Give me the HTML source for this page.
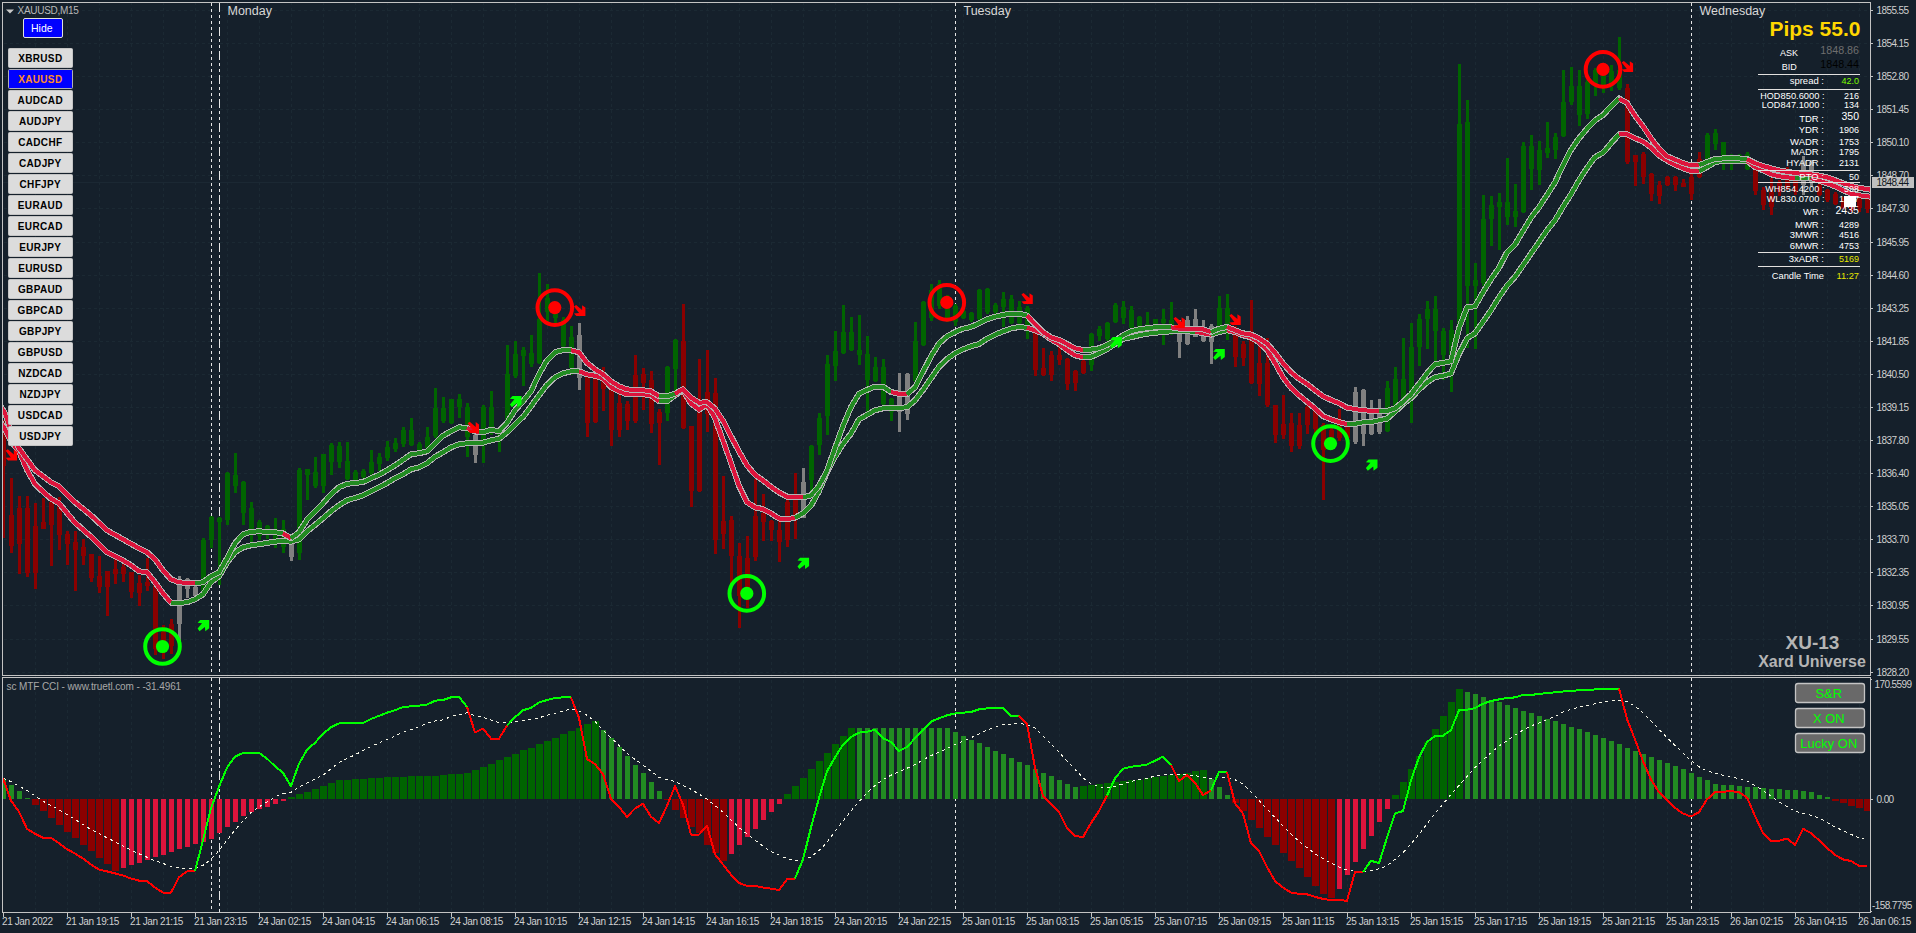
<!DOCTYPE html>
<html><head><meta charset="utf-8"><title>XAUUSD,M15</title>
<style>html,body{margin:0;padding:0;background:#15202b;width:1916px;height:933px}svg{display:block}text{font-family:"Liberation Sans", sans-serif;white-space:pre}</style>
</head><body>
<svg width="1916" height="933" viewBox="0 0 1916 933">
<rect x="0" y="0" width="1916" height="933" fill="#15202b"/>
<defs><clipPath id="cm"><rect x="3" y="3" width="1867" height="672"/></clipPath><clipPath id="ci"><rect x="3" y="678" width="1867" height="234"/></clipPath></defs>
<g shape-rendering="crispEdges" stroke="#1b2933" stroke-width="1" stroke-dasharray="3 3" fill="none">
<path d="M35.5 2V675M35.5 674V912"/>
<path d="M67.5 2V675M67.5 674V912"/>
<path d="M99.5 2V675M99.5 674V912"/>
<path d="M131.5 2V675M131.5 674V912"/>
<path d="M163.5 2V675M163.5 674V912"/>
<path d="M195.5 2V675M195.5 674V912"/>
<path d="M227.5 2V675M227.5 674V912"/>
<path d="M259.5 2V675M259.5 674V912"/>
<path d="M291.5 2V675M291.5 674V912"/>
<path d="M323.5 2V675M323.5 674V912"/>
<path d="M355.5 2V675M355.5 674V912"/>
<path d="M387.5 2V675M387.5 674V912"/>
<path d="M419.5 2V675M419.5 674V912"/>
<path d="M451.5 2V675M451.5 674V912"/>
<path d="M483.5 2V675M483.5 674V912"/>
<path d="M515.5 2V675M515.5 674V912"/>
<path d="M547.5 2V675M547.5 674V912"/>
<path d="M579.5 2V675M579.5 674V912"/>
<path d="M611.5 2V675M611.5 674V912"/>
<path d="M643.5 2V675M643.5 674V912"/>
<path d="M675.5 2V675M675.5 674V912"/>
<path d="M707.5 2V675M707.5 674V912"/>
<path d="M739.5 2V675M739.5 674V912"/>
<path d="M771.5 2V675M771.5 674V912"/>
<path d="M803.5 2V675M803.5 674V912"/>
<path d="M835.5 2V675M835.5 674V912"/>
<path d="M867.5 2V675M867.5 674V912"/>
<path d="M899.5 2V675M899.5 674V912"/>
<path d="M931.5 2V675M931.5 674V912"/>
<path d="M963.5 2V675M963.5 674V912"/>
<path d="M995.5 2V675M995.5 674V912"/>
<path d="M1027.5 2V675M1027.5 674V912"/>
<path d="M1059.5 2V675M1059.5 674V912"/>
<path d="M1091.5 2V675M1091.5 674V912"/>
<path d="M1123.5 2V675M1123.5 674V912"/>
<path d="M1155.5 2V675M1155.5 674V912"/>
<path d="M1187.5 2V675M1187.5 674V912"/>
<path d="M1219.5 2V675M1219.5 674V912"/>
<path d="M1251.5 2V675M1251.5 674V912"/>
<path d="M1283.5 2V675M1283.5 674V912"/>
<path d="M1315.5 2V675M1315.5 674V912"/>
<path d="M1347.5 2V675M1347.5 674V912"/>
<path d="M1379.5 2V675M1379.5 674V912"/>
<path d="M1411.5 2V675M1411.5 674V912"/>
<path d="M1443.5 2V675M1443.5 674V912"/>
<path d="M1475.5 2V675M1475.5 674V912"/>
<path d="M1507.5 2V675M1507.5 674V912"/>
<path d="M1539.5 2V675M1539.5 674V912"/>
<path d="M1571.5 2V675M1571.5 674V912"/>
<path d="M1603.5 2V675M1603.5 674V912"/>
<path d="M1635.5 2V675M1635.5 674V912"/>
<path d="M1667.5 2V675M1667.5 674V912"/>
<path d="M1699.5 2V675M1699.5 674V912"/>
<path d="M1731.5 2V675M1731.5 674V912"/>
<path d="M1763.5 2V675M1763.5 674V912"/>
<path d="M1795.5 2V675M1795.5 674V912"/>
<path d="M1827.5 2V675M1827.5 674V912"/>
<path d="M1859.5 2V675M1859.5 674V912"/>
<path d="M4 10.5H1870"/>
<path d="M4 43.5H1870"/>
<path d="M4 76.5H1870"/>
<path d="M4 109.5H1870"/>
<path d="M4 142.5H1870"/>
<path d="M4 175.5H1870"/>
<path d="M4 208.5H1870"/>
<path d="M4 242.5H1870"/>
<path d="M4 275.5H1870"/>
<path d="M4 308.5H1870"/>
<path d="M4 341.5H1870"/>
<path d="M4 374.5H1870"/>
<path d="M4 407.5H1870"/>
<path d="M4 440.5H1870"/>
<path d="M4 473.5H1870"/>
<path d="M4 506.5H1870"/>
<path d="M4 539.5H1870"/>
<path d="M4 572.5H1870"/>
<path d="M4 605.5H1870"/>
<path d="M4 639.5H1870"/>
<path d="M4 672.5H1870"/>
</g>
<path d="M3 182.5H1870" stroke="#1b2833" stroke-width="1" shape-rendering="crispEdges"/>
<g shape-rendering="crispEdges" stroke="#e6e6e6" stroke-width="1" fill="none">
<path d="M211.5 3V675M211.5 678V912" stroke-dasharray="3 3"/>
<path d="M955.5 3V675M955.5 678V912" stroke-dasharray="3 3"/>
<path d="M1691.5 3V675M1691.5 678V912" stroke-dasharray="3 3"/>
<path d="M219.5 3V675" stroke-dasharray="9 3 3 3 3 3"/>
<path d="M219.5 678V912" stroke-dasharray="9 3 3 3 3 3" stroke-dashoffset="3"/>
</g>
<g clip-path="url(#cm)" shape-rendering="crispEdges">
<rect x="2" y="420" width="3" height="118" fill="#8b0000"/>
<rect x="1" y="433" width="5" height="33" fill="#8b0000"/>
<rect x="10" y="478" width="3" height="75" fill="#8b0000"/>
<rect x="9" y="515" width="5" height="31" fill="#8b0000"/>
<rect x="18" y="496" width="3" height="78" fill="#8b0000"/>
<rect x="17" y="508" width="5" height="36" fill="#8b0000"/>
<rect x="26" y="496" width="3" height="81" fill="#8b0000"/>
<rect x="25" y="508" width="5" height="65" fill="#8b0000"/>
<rect x="34" y="503" width="3" height="86" fill="#8b0000"/>
<rect x="33" y="526" width="5" height="47" fill="#8b0000"/>
<rect x="42" y="498" width="3" height="31" fill="#8b0000"/>
<rect x="41" y="522" width="5" height="7" fill="#8b0000"/>
<rect x="50" y="502" width="3" height="64" fill="#8b0000"/>
<rect x="49" y="502" width="5" height="23" fill="#8b0000"/>
<rect x="58" y="497" width="3" height="53" fill="#8b0000"/>
<rect x="57" y="505" width="5" height="30" fill="#8b0000"/>
<rect x="66" y="531" width="3" height="34" fill="#8b0000"/>
<rect x="65" y="534" width="5" height="10" fill="#8b0000"/>
<rect x="74" y="531" width="3" height="60" fill="#8b0000"/>
<rect x="73" y="542" width="5" height="8" fill="#8b0000"/>
<rect x="82" y="539" width="3" height="26" fill="#8b0000"/>
<rect x="81" y="547" width="5" height="9" fill="#8b0000"/>
<rect x="90" y="554" width="3" height="28" fill="#8b0000"/>
<rect x="89" y="554" width="5" height="24" fill="#8b0000"/>
<rect x="98" y="556" width="3" height="37" fill="#8b0000"/>
<rect x="97" y="576" width="5" height="11" fill="#8b0000"/>
<rect x="106" y="571" width="3" height="45" fill="#8b0000"/>
<rect x="105" y="571" width="5" height="16" fill="#8b0000"/>
<rect x="114" y="559" width="3" height="25" fill="#8b0000"/>
<rect x="113" y="569" width="5" height="5" fill="#8b0000"/>
<rect x="122" y="562" width="3" height="20" fill="#8b0000"/>
<rect x="121" y="567" width="5" height="7" fill="#8b0000"/>
<rect x="130" y="572" width="3" height="26" fill="#8b0000"/>
<rect x="129" y="572" width="5" height="20" fill="#8b0000"/>
<rect x="138" y="575" width="3" height="31" fill="#8b0000"/>
<rect x="137" y="583" width="5" height="10" fill="#8b0000"/>
<rect x="146" y="558" width="3" height="33" fill="#8b0000"/>
<rect x="145" y="582" width="5" height="4" fill="#8b0000"/>
<rect x="154" y="583" width="3" height="72" fill="#8b0000"/>
<rect x="153" y="584" width="5" height="65" fill="#8b0000"/>
<rect x="162" y="625" width="3" height="34" fill="#8b0000"/>
<rect x="161" y="632" width="5" height="20" fill="#8b0000"/>
<rect x="170" y="619" width="3" height="35" fill="#8b0000"/>
<rect x="169" y="624" width="5" height="22" fill="#8b0000"/>
<rect x="178" y="576" width="3" height="67" fill="#808080"/>
<rect x="177" y="579" width="5" height="45" fill="#808080"/>
<rect x="186" y="578" width="3" height="20" fill="#808080"/>
<rect x="185" y="579" width="5" height="10" fill="#808080"/>
<rect x="194" y="584" width="3" height="13" fill="#808080"/>
<rect x="193" y="587" width="5" height="9" fill="#808080"/>
<rect x="202" y="538" width="3" height="59" fill="#006400"/>
<rect x="201" y="540" width="5" height="54" fill="#006400"/>
<rect x="210" y="516" width="3" height="32" fill="#006400"/>
<rect x="209" y="517" width="5" height="23" fill="#006400"/>
<rect x="218" y="517" width="3" height="68" fill="#006400"/>
<rect x="217" y="518" width="5" height="4" fill="#006400"/>
<rect x="226" y="472" width="3" height="53" fill="#006400"/>
<rect x="225" y="473" width="5" height="47" fill="#006400"/>
<rect x="234" y="453" width="3" height="40" fill="#006400"/>
<rect x="233" y="475" width="5" height="11" fill="#006400"/>
<rect x="242" y="481" width="3" height="44" fill="#006400"/>
<rect x="241" y="482" width="5" height="31" fill="#006400"/>
<rect x="250" y="502" width="3" height="40" fill="#006400"/>
<rect x="249" y="508" width="5" height="21" fill="#006400"/>
<rect x="258" y="520" width="3" height="20" fill="#006400"/>
<rect x="257" y="522" width="5" height="14" fill="#006400"/>
<rect x="266" y="525" width="3" height="14" fill="#006400"/>
<rect x="265" y="526" width="5" height="9" fill="#006400"/>
<rect x="274" y="518" width="3" height="30" fill="#006400"/>
<rect x="273" y="529" width="5" height="14" fill="#006400"/>
<rect x="282" y="520" width="3" height="33" fill="#006400"/>
<rect x="281" y="529" width="5" height="18" fill="#006400"/>
<rect x="290" y="539" width="3" height="22" fill="#808080"/>
<rect x="289" y="543" width="5" height="14" fill="#808080"/>
<rect x="298" y="468" width="3" height="92" fill="#006400"/>
<rect x="297" y="470" width="5" height="83" fill="#006400"/>
<rect x="306" y="469" width="3" height="31" fill="#006400"/>
<rect x="305" y="469" width="5" height="6" fill="#006400"/>
<rect x="314" y="457" width="3" height="31" fill="#006400"/>
<rect x="313" y="472" width="5" height="14" fill="#006400"/>
<rect x="322" y="454" width="3" height="39" fill="#006400"/>
<rect x="321" y="454" width="5" height="32" fill="#006400"/>
<rect x="330" y="443" width="3" height="32" fill="#006400"/>
<rect x="329" y="445" width="5" height="17" fill="#006400"/>
<rect x="338" y="442" width="3" height="26" fill="#006400"/>
<rect x="337" y="446" width="5" height="16" fill="#006400"/>
<rect x="346" y="442" width="3" height="38" fill="#006400"/>
<rect x="345" y="461" width="5" height="18" fill="#006400"/>
<rect x="354" y="470" width="3" height="15" fill="#006400"/>
<rect x="353" y="472" width="5" height="12" fill="#006400"/>
<rect x="362" y="469" width="3" height="15" fill="#006400"/>
<rect x="361" y="471" width="5" height="6" fill="#006400"/>
<rect x="370" y="450" width="3" height="26" fill="#006400"/>
<rect x="369" y="462" width="5" height="11" fill="#006400"/>
<rect x="378" y="453" width="3" height="18" fill="#006400"/>
<rect x="377" y="457" width="5" height="7" fill="#006400"/>
<rect x="386" y="441" width="3" height="20" fill="#006400"/>
<rect x="385" y="447" width="5" height="11" fill="#006400"/>
<rect x="394" y="438" width="3" height="14" fill="#006400"/>
<rect x="393" y="443" width="5" height="6" fill="#006400"/>
<rect x="402" y="427" width="3" height="20" fill="#006400"/>
<rect x="401" y="430" width="5" height="14" fill="#006400"/>
<rect x="410" y="418" width="3" height="28" fill="#006400"/>
<rect x="409" y="430" width="5" height="15" fill="#006400"/>
<rect x="418" y="442" width="3" height="11" fill="#006400"/>
<rect x="417" y="444" width="5" height="6" fill="#006400"/>
<rect x="426" y="427" width="3" height="26" fill="#006400"/>
<rect x="425" y="437" width="5" height="11" fill="#006400"/>
<rect x="434" y="388" width="3" height="50" fill="#006400"/>
<rect x="433" y="408" width="5" height="28" fill="#006400"/>
<rect x="442" y="397" width="3" height="26" fill="#006400"/>
<rect x="441" y="408" width="5" height="13" fill="#006400"/>
<rect x="450" y="399" width="3" height="25" fill="#006400"/>
<rect x="449" y="399" width="5" height="24" fill="#006400"/>
<rect x="458" y="394" width="3" height="24" fill="#006400"/>
<rect x="457" y="399" width="5" height="8" fill="#006400"/>
<rect x="466" y="403" width="3" height="54" fill="#006400"/>
<rect x="465" y="407" width="5" height="30" fill="#006400"/>
<rect x="474" y="431" width="3" height="32" fill="#808080"/>
<rect x="473" y="435" width="5" height="20" fill="#808080"/>
<rect x="482" y="405" width="3" height="58" fill="#006400"/>
<rect x="481" y="407" width="5" height="33" fill="#006400"/>
<rect x="490" y="391" width="3" height="44" fill="#006400"/>
<rect x="489" y="407" width="5" height="23" fill="#006400"/>
<rect x="498" y="427" width="3" height="25" fill="#006400"/>
<rect x="497" y="430" width="5" height="10" fill="#006400"/>
<rect x="506" y="345" width="3" height="80" fill="#006400"/>
<rect x="505" y="374" width="5" height="46" fill="#006400"/>
<rect x="514" y="341" width="3" height="37" fill="#006400"/>
<rect x="513" y="354" width="5" height="22" fill="#006400"/>
<rect x="522" y="347" width="3" height="39" fill="#006400"/>
<rect x="521" y="350" width="5" height="6" fill="#006400"/>
<rect x="530" y="335" width="3" height="32" fill="#006400"/>
<rect x="529" y="353" width="5" height="11" fill="#006400"/>
<rect x="538" y="273" width="3" height="91" fill="#006400"/>
<rect x="537" y="319" width="5" height="44" fill="#006400"/>
<rect x="546" y="284" width="3" height="38" fill="#006400"/>
<rect x="545" y="298" width="5" height="14" fill="#006400"/>
<rect x="554" y="302" width="3" height="21" fill="#006400"/>
<rect x="553" y="304" width="5" height="14" fill="#006400"/>
<rect x="562" y="317" width="3" height="31" fill="#006400"/>
<rect x="561" y="320" width="5" height="26" fill="#006400"/>
<rect x="570" y="326" width="3" height="49" fill="#006400"/>
<rect x="569" y="337" width="5" height="31" fill="#006400"/>
<rect x="578" y="323" width="3" height="67" fill="#808080"/>
<rect x="577" y="335" width="5" height="43" fill="#808080"/>
<rect x="586" y="377" width="3" height="60" fill="#8b0000"/>
<rect x="585" y="377" width="5" height="46" fill="#8b0000"/>
<rect x="594" y="377" width="3" height="46" fill="#8b0000"/>
<rect x="593" y="378" width="5" height="44" fill="#8b0000"/>
<rect x="602" y="367" width="3" height="44" fill="#8b0000"/>
<rect x="601" y="378" width="5" height="11" fill="#8b0000"/>
<rect x="610" y="389" width="3" height="57" fill="#8b0000"/>
<rect x="609" y="389" width="5" height="41" fill="#8b0000"/>
<rect x="618" y="392" width="3" height="45" fill="#8b0000"/>
<rect x="617" y="403" width="5" height="27" fill="#8b0000"/>
<rect x="626" y="401" width="3" height="29" fill="#8b0000"/>
<rect x="625" y="404" width="5" height="17" fill="#8b0000"/>
<rect x="634" y="355" width="3" height="68" fill="#8b0000"/>
<rect x="633" y="375" width="5" height="46" fill="#8b0000"/>
<rect x="642" y="368" width="3" height="42" fill="#8b0000"/>
<rect x="641" y="374" width="5" height="9" fill="#8b0000"/>
<rect x="650" y="371" width="3" height="62" fill="#8b0000"/>
<rect x="649" y="380" width="5" height="44" fill="#8b0000"/>
<rect x="658" y="409" width="3" height="56" fill="#8b0000"/>
<rect x="657" y="412" width="5" height="11" fill="#8b0000"/>
<rect x="666" y="366" width="3" height="55" fill="#006400"/>
<rect x="665" y="367" width="5" height="46" fill="#006400"/>
<rect x="674" y="339" width="3" height="53" fill="#006400"/>
<rect x="673" y="340" width="5" height="29" fill="#006400"/>
<rect x="682" y="304" width="3" height="125" fill="#8b0000"/>
<rect x="681" y="341" width="5" height="87" fill="#8b0000"/>
<rect x="690" y="426" width="3" height="81" fill="#8b0000"/>
<rect x="689" y="426" width="5" height="65" fill="#8b0000"/>
<rect x="698" y="359" width="3" height="133" fill="#8b0000"/>
<rect x="697" y="412" width="5" height="79" fill="#8b0000"/>
<rect x="706" y="350" width="3" height="82" fill="#8b0000"/>
<rect x="705" y="392" width="5" height="22" fill="#8b0000"/>
<rect x="714" y="378" width="3" height="176" fill="#8b0000"/>
<rect x="713" y="393" width="5" height="147" fill="#8b0000"/>
<rect x="722" y="476" width="3" height="73" fill="#8b0000"/>
<rect x="721" y="521" width="5" height="13" fill="#8b0000"/>
<rect x="730" y="516" width="3" height="69" fill="#8b0000"/>
<rect x="729" y="520" width="5" height="36" fill="#8b0000"/>
<rect x="738" y="543" width="3" height="85" fill="#8b0000"/>
<rect x="737" y="556" width="5" height="40" fill="#8b0000"/>
<rect x="746" y="536" width="3" height="72" fill="#8b0000"/>
<rect x="745" y="558" width="5" height="38" fill="#8b0000"/>
<rect x="754" y="479" width="3" height="82" fill="#8b0000"/>
<rect x="753" y="516" width="5" height="41" fill="#8b0000"/>
<rect x="762" y="494" width="3" height="47" fill="#8b0000"/>
<rect x="761" y="513" width="5" height="9" fill="#8b0000"/>
<rect x="770" y="520" width="3" height="21" fill="#8b0000"/>
<rect x="769" y="521" width="5" height="9" fill="#8b0000"/>
<rect x="778" y="521" width="3" height="41" fill="#8b0000"/>
<rect x="777" y="530" width="5" height="12" fill="#8b0000"/>
<rect x="786" y="500" width="3" height="47" fill="#8b0000"/>
<rect x="785" y="502" width="5" height="38" fill="#8b0000"/>
<rect x="794" y="473" width="3" height="66" fill="#8b0000"/>
<rect x="793" y="500" width="5" height="18" fill="#8b0000"/>
<rect x="802" y="468" width="3" height="50" fill="#808080"/>
<rect x="801" y="482" width="5" height="36" fill="#808080"/>
<rect x="810" y="445" width="3" height="46" fill="#006400"/>
<rect x="809" y="446" width="5" height="34" fill="#006400"/>
<rect x="818" y="413" width="3" height="42" fill="#006400"/>
<rect x="817" y="418" width="5" height="27" fill="#006400"/>
<rect x="826" y="355" width="3" height="80" fill="#006400"/>
<rect x="825" y="364" width="5" height="52" fill="#006400"/>
<rect x="834" y="331" width="3" height="50" fill="#006400"/>
<rect x="833" y="351" width="5" height="15" fill="#006400"/>
<rect x="842" y="305" width="3" height="49" fill="#006400"/>
<rect x="841" y="332" width="5" height="21" fill="#006400"/>
<rect x="850" y="317" width="3" height="34" fill="#006400"/>
<rect x="849" y="332" width="5" height="18" fill="#006400"/>
<rect x="858" y="315" width="3" height="50" fill="#006400"/>
<rect x="857" y="350" width="5" height="5" fill="#006400"/>
<rect x="866" y="336" width="3" height="76" fill="#006400"/>
<rect x="865" y="354" width="5" height="26" fill="#006400"/>
<rect x="874" y="357" width="3" height="25" fill="#006400"/>
<rect x="873" y="367" width="5" height="14" fill="#006400"/>
<rect x="882" y="359" width="3" height="48" fill="#006400"/>
<rect x="881" y="367" width="5" height="37" fill="#006400"/>
<rect x="890" y="398" width="3" height="23" fill="#006400"/>
<rect x="889" y="399" width="5" height="13" fill="#006400"/>
<rect x="898" y="373" width="3" height="59" fill="#808080"/>
<rect x="897" y="396" width="5" height="16" fill="#808080"/>
<rect x="906" y="373" width="3" height="47" fill="#808080"/>
<rect x="905" y="374" width="5" height="40" fill="#808080"/>
<rect x="914" y="322" width="3" height="60" fill="#006400"/>
<rect x="913" y="341" width="5" height="40" fill="#006400"/>
<rect x="922" y="301" width="3" height="45" fill="#006400"/>
<rect x="921" y="302" width="5" height="43" fill="#006400"/>
<rect x="930" y="284" width="3" height="37" fill="#006400"/>
<rect x="929" y="290" width="5" height="28" fill="#006400"/>
<rect x="938" y="280" width="3" height="29" fill="#006400"/>
<rect x="937" y="284" width="5" height="22" fill="#006400"/>
<rect x="946" y="295" width="3" height="27" fill="#006400"/>
<rect x="945" y="297" width="5" height="23" fill="#006400"/>
<rect x="954" y="304" width="3" height="22" fill="#006400"/>
<rect x="953" y="306" width="5" height="16" fill="#006400"/>
<rect x="962" y="310" width="3" height="9" fill="#006400"/>
<rect x="961" y="311" width="5" height="7" fill="#006400"/>
<rect x="970" y="312" width="3" height="10" fill="#006400"/>
<rect x="969" y="313" width="5" height="7" fill="#006400"/>
<rect x="978" y="289" width="3" height="31" fill="#006400"/>
<rect x="977" y="290" width="5" height="29" fill="#006400"/>
<rect x="986" y="288" width="3" height="26" fill="#006400"/>
<rect x="985" y="289" width="5" height="23" fill="#006400"/>
<rect x="994" y="303" width="3" height="11" fill="#006400"/>
<rect x="993" y="305" width="5" height="7" fill="#006400"/>
<rect x="1002" y="292" width="3" height="35" fill="#006400"/>
<rect x="1001" y="299" width="5" height="8" fill="#006400"/>
<rect x="1010" y="295" width="3" height="29" fill="#006400"/>
<rect x="1009" y="299" width="5" height="24" fill="#006400"/>
<rect x="1018" y="301" width="3" height="23" fill="#006400"/>
<rect x="1017" y="307" width="5" height="16" fill="#006400"/>
<rect x="1026" y="306" width="3" height="33" fill="#006400"/>
<rect x="1025" y="308" width="5" height="22" fill="#006400"/>
<rect x="1034" y="330" width="3" height="46" fill="#8b0000"/>
<rect x="1033" y="332" width="5" height="38" fill="#8b0000"/>
<rect x="1042" y="348" width="3" height="28" fill="#8b0000"/>
<rect x="1041" y="368" width="5" height="7" fill="#8b0000"/>
<rect x="1050" y="351" width="3" height="30" fill="#8b0000"/>
<rect x="1049" y="355" width="5" height="20" fill="#8b0000"/>
<rect x="1058" y="347" width="3" height="18" fill="#8b0000"/>
<rect x="1057" y="355" width="5" height="5" fill="#8b0000"/>
<rect x="1066" y="358" width="3" height="32" fill="#8b0000"/>
<rect x="1065" y="359" width="5" height="25" fill="#8b0000"/>
<rect x="1074" y="370" width="3" height="21" fill="#8b0000"/>
<rect x="1073" y="371" width="5" height="12" fill="#8b0000"/>
<rect x="1082" y="359" width="3" height="15" fill="#8b0000"/>
<rect x="1081" y="361" width="5" height="12" fill="#8b0000"/>
<rect x="1090" y="333" width="3" height="38" fill="#006400"/>
<rect x="1089" y="334" width="5" height="31" fill="#006400"/>
<rect x="1098" y="326" width="3" height="15" fill="#006400"/>
<rect x="1097" y="329" width="5" height="7" fill="#006400"/>
<rect x="1106" y="322" width="3" height="19" fill="#006400"/>
<rect x="1105" y="323" width="5" height="16" fill="#006400"/>
<rect x="1114" y="303" width="3" height="20" fill="#006400"/>
<rect x="1113" y="305" width="5" height="17" fill="#006400"/>
<rect x="1122" y="301" width="3" height="23" fill="#006400"/>
<rect x="1121" y="307" width="5" height="11" fill="#006400"/>
<rect x="1130" y="306" width="3" height="24" fill="#006400"/>
<rect x="1129" y="310" width="5" height="18" fill="#006400"/>
<rect x="1138" y="316" width="3" height="12" fill="#006400"/>
<rect x="1137" y="317" width="5" height="10" fill="#006400"/>
<rect x="1146" y="312" width="3" height="16" fill="#006400"/>
<rect x="1145" y="324" width="5" height="3" fill="#006400"/>
<rect x="1154" y="319" width="3" height="7" fill="#006400"/>
<rect x="1153" y="319" width="5" height="7" fill="#006400"/>
<rect x="1162" y="309" width="3" height="36" fill="#006400"/>
<rect x="1161" y="319" width="5" height="4" fill="#006400"/>
<rect x="1170" y="302" width="3" height="33" fill="#006400"/>
<rect x="1169" y="320" width="5" height="6" fill="#006400"/>
<rect x="1178" y="320" width="3" height="38" fill="#808080"/>
<rect x="1177" y="333" width="5" height="9" fill="#808080"/>
<rect x="1186" y="316" width="3" height="29" fill="#808080"/>
<rect x="1185" y="320" width="5" height="24" fill="#808080"/>
<rect x="1194" y="309" width="3" height="28" fill="#808080"/>
<rect x="1193" y="319" width="5" height="18" fill="#808080"/>
<rect x="1202" y="320" width="3" height="22" fill="#808080"/>
<rect x="1201" y="333" width="5" height="8" fill="#808080"/>
<rect x="1210" y="324" width="3" height="40" fill="#808080"/>
<rect x="1209" y="326" width="5" height="16" fill="#808080"/>
<rect x="1218" y="296" width="3" height="31" fill="#006400"/>
<rect x="1217" y="308" width="5" height="18" fill="#006400"/>
<rect x="1226" y="294" width="3" height="46" fill="#006400"/>
<rect x="1225" y="308" width="5" height="24" fill="#006400"/>
<rect x="1234" y="326" width="3" height="41" fill="#8b0000"/>
<rect x="1233" y="335" width="5" height="22" fill="#8b0000"/>
<rect x="1242" y="341" width="3" height="25" fill="#8b0000"/>
<rect x="1241" y="344" width="5" height="14" fill="#8b0000"/>
<rect x="1250" y="300" width="3" height="84" fill="#8b0000"/>
<rect x="1249" y="338" width="5" height="45" fill="#8b0000"/>
<rect x="1258" y="342" width="3" height="54" fill="#8b0000"/>
<rect x="1257" y="363" width="5" height="21" fill="#8b0000"/>
<rect x="1266" y="338" width="3" height="69" fill="#8b0000"/>
<rect x="1265" y="363" width="5" height="42" fill="#8b0000"/>
<rect x="1274" y="405" width="3" height="38" fill="#8b0000"/>
<rect x="1273" y="405" width="5" height="30" fill="#8b0000"/>
<rect x="1282" y="395" width="3" height="44" fill="#8b0000"/>
<rect x="1281" y="424" width="5" height="11" fill="#8b0000"/>
<rect x="1290" y="413" width="3" height="39" fill="#8b0000"/>
<rect x="1289" y="423" width="5" height="23" fill="#8b0000"/>
<rect x="1298" y="413" width="3" height="36" fill="#8b0000"/>
<rect x="1297" y="425" width="5" height="21" fill="#8b0000"/>
<rect x="1306" y="405" width="3" height="29" fill="#8b0000"/>
<rect x="1305" y="407" width="5" height="18" fill="#8b0000"/>
<rect x="1314" y="409" width="3" height="25" fill="#8b0000"/>
<rect x="1313" y="410" width="5" height="19" fill="#8b0000"/>
<rect x="1322" y="423" width="3" height="77" fill="#8b0000"/>
<rect x="1321" y="425" width="5" height="25" fill="#8b0000"/>
<rect x="1330" y="425" width="3" height="25" fill="#8b0000"/>
<rect x="1329" y="430" width="5" height="15" fill="#8b0000"/>
<rect x="1338" y="409" width="3" height="32" fill="#8b0000"/>
<rect x="1337" y="419" width="5" height="19" fill="#8b0000"/>
<rect x="1346" y="421" width="3" height="21" fill="#8b0000"/>
<rect x="1345" y="424" width="5" height="14" fill="#8b0000"/>
<rect x="1354" y="387" width="3" height="57" fill="#808080"/>
<rect x="1353" y="392" width="5" height="50" fill="#808080"/>
<rect x="1362" y="389" width="3" height="57" fill="#808080"/>
<rect x="1361" y="390" width="5" height="44" fill="#808080"/>
<rect x="1370" y="400" width="3" height="35" fill="#808080"/>
<rect x="1369" y="411" width="5" height="23" fill="#808080"/>
<rect x="1378" y="399" width="3" height="35" fill="#808080"/>
<rect x="1377" y="411" width="5" height="21" fill="#808080"/>
<rect x="1386" y="381" width="3" height="51" fill="#006400"/>
<rect x="1385" y="388" width="5" height="43" fill="#006400"/>
<rect x="1394" y="367" width="3" height="46" fill="#006400"/>
<rect x="1393" y="379" width="5" height="33" fill="#006400"/>
<rect x="1402" y="338" width="3" height="65" fill="#006400"/>
<rect x="1401" y="379" width="5" height="23" fill="#006400"/>
<rect x="1410" y="323" width="3" height="100" fill="#006400"/>
<rect x="1409" y="347" width="5" height="49" fill="#006400"/>
<rect x="1418" y="314" width="3" height="52" fill="#006400"/>
<rect x="1417" y="319" width="5" height="28" fill="#006400"/>
<rect x="1426" y="301" width="3" height="48" fill="#006400"/>
<rect x="1425" y="309" width="5" height="10" fill="#006400"/>
<rect x="1434" y="296" width="3" height="70" fill="#006400"/>
<rect x="1433" y="309" width="5" height="22" fill="#006400"/>
<rect x="1442" y="328" width="3" height="52" fill="#006400"/>
<rect x="1441" y="331" width="5" height="24" fill="#006400"/>
<rect x="1450" y="320" width="3" height="72" fill="#006400"/>
<rect x="1449" y="330" width="5" height="33" fill="#006400"/>
<rect x="1458" y="64" width="3" height="271" fill="#006400"/>
<rect x="1457" y="124" width="5" height="200" fill="#006400"/>
<rect x="1466" y="100" width="3" height="248" fill="#006400"/>
<rect x="1465" y="122" width="5" height="164" fill="#006400"/>
<rect x="1474" y="263" width="3" height="86" fill="#006400"/>
<rect x="1473" y="280" width="5" height="6" fill="#006400"/>
<rect x="1482" y="195" width="3" height="91" fill="#006400"/>
<rect x="1481" y="219" width="5" height="64" fill="#006400"/>
<rect x="1490" y="196" width="3" height="50" fill="#006400"/>
<rect x="1489" y="205" width="5" height="14" fill="#006400"/>
<rect x="1498" y="193" width="3" height="57" fill="#006400"/>
<rect x="1497" y="202" width="5" height="5" fill="#006400"/>
<rect x="1506" y="158" width="3" height="67" fill="#006400"/>
<rect x="1505" y="202" width="5" height="15" fill="#006400"/>
<rect x="1514" y="184" width="3" height="43" fill="#006400"/>
<rect x="1513" y="211" width="5" height="6" fill="#006400"/>
<rect x="1522" y="142" width="3" height="71" fill="#006400"/>
<rect x="1521" y="146" width="5" height="66" fill="#006400"/>
<rect x="1530" y="135" width="3" height="55" fill="#006400"/>
<rect x="1529" y="146" width="5" height="23" fill="#006400"/>
<rect x="1538" y="141" width="3" height="44" fill="#006400"/>
<rect x="1537" y="150" width="5" height="20" fill="#006400"/>
<rect x="1546" y="122" width="3" height="36" fill="#006400"/>
<rect x="1545" y="148" width="5" height="5" fill="#006400"/>
<rect x="1554" y="133" width="3" height="26" fill="#006400"/>
<rect x="1553" y="137" width="5" height="13" fill="#006400"/>
<rect x="1562" y="70" width="3" height="67" fill="#006400"/>
<rect x="1561" y="102" width="5" height="34" fill="#006400"/>
<rect x="1570" y="67" width="3" height="38" fill="#006400"/>
<rect x="1569" y="86" width="5" height="16" fill="#006400"/>
<rect x="1578" y="70" width="3" height="56" fill="#006400"/>
<rect x="1577" y="86" width="5" height="29" fill="#006400"/>
<rect x="1586" y="80" width="3" height="39" fill="#006400"/>
<rect x="1585" y="82" width="5" height="32" fill="#006400"/>
<rect x="1594" y="68" width="3" height="28" fill="#006400"/>
<rect x="1593" y="70" width="5" height="14" fill="#006400"/>
<rect x="1602" y="68" width="3" height="25" fill="#006400"/>
<rect x="1601" y="70" width="5" height="15" fill="#006400"/>
<rect x="1610" y="65" width="3" height="26" fill="#006400"/>
<rect x="1609" y="71" width="5" height="15" fill="#006400"/>
<rect x="1618" y="37" width="3" height="53" fill="#006400"/>
<rect x="1617" y="70" width="5" height="18" fill="#006400"/>
<rect x="1626" y="84" width="3" height="80" fill="#8b0000"/>
<rect x="1625" y="88" width="5" height="74" fill="#8b0000"/>
<rect x="1634" y="155" width="3" height="31" fill="#8b0000"/>
<rect x="1633" y="155" width="5" height="7" fill="#8b0000"/>
<rect x="1642" y="152" width="3" height="32" fill="#8b0000"/>
<rect x="1641" y="154" width="5" height="23" fill="#8b0000"/>
<rect x="1650" y="173" width="3" height="28" fill="#8b0000"/>
<rect x="1649" y="174" width="5" height="20" fill="#8b0000"/>
<rect x="1658" y="181" width="3" height="23" fill="#8b0000"/>
<rect x="1657" y="185" width="5" height="11" fill="#8b0000"/>
<rect x="1666" y="176" width="3" height="10" fill="#8b0000"/>
<rect x="1665" y="177" width="5" height="8" fill="#8b0000"/>
<rect x="1674" y="176" width="3" height="15" fill="#8b0000"/>
<rect x="1673" y="177" width="5" height="8" fill="#8b0000"/>
<rect x="1682" y="179" width="3" height="8" fill="#8b0000"/>
<rect x="1681" y="183" width="5" height="4" fill="#8b0000"/>
<rect x="1690" y="174" width="3" height="26" fill="#8b0000"/>
<rect x="1689" y="177" width="5" height="17" fill="#8b0000"/>
<rect x="1698" y="152" width="3" height="26" fill="#8b0000"/>
<rect x="1697" y="159" width="5" height="18" fill="#8b0000"/>
<rect x="1706" y="133" width="3" height="27" fill="#006400"/>
<rect x="1705" y="135" width="5" height="24" fill="#006400"/>
<rect x="1714" y="129" width="3" height="21" fill="#006400"/>
<rect x="1713" y="133" width="5" height="11" fill="#006400"/>
<rect x="1722" y="142" width="3" height="28" fill="#006400"/>
<rect x="1721" y="142" width="5" height="16" fill="#006400"/>
<rect x="1730" y="154" width="3" height="16" fill="#006400"/>
<rect x="1729" y="155" width="5" height="9" fill="#006400"/>
<rect x="1738" y="154" width="3" height="9" fill="#006400"/>
<rect x="1737" y="155" width="5" height="6" fill="#006400"/>
<rect x="1746" y="152" width="3" height="18" fill="#006400"/>
<rect x="1745" y="154" width="5" height="15" fill="#006400"/>
<rect x="1754" y="167" width="3" height="28" fill="#8b0000"/>
<rect x="1753" y="168" width="5" height="23" fill="#8b0000"/>
<rect x="1762" y="187" width="3" height="23" fill="#8b0000"/>
<rect x="1761" y="190" width="5" height="15" fill="#8b0000"/>
<rect x="1770" y="178" width="3" height="37" fill="#8b0000"/>
<rect x="1769" y="192" width="5" height="15" fill="#8b0000"/>
<rect x="1778" y="180" width="3" height="16" fill="#8b0000"/>
<rect x="1777" y="183" width="5" height="9" fill="#8b0000"/>
<rect x="1786" y="167" width="3" height="23" fill="#8b0000"/>
<rect x="1785" y="175" width="5" height="13" fill="#8b0000"/>
<rect x="1794" y="175" width="3" height="20" fill="#8b0000"/>
<rect x="1793" y="178" width="5" height="14" fill="#8b0000"/>
<rect x="1802" y="156" width="3" height="39" fill="#808080"/>
<rect x="1801" y="161" width="5" height="24" fill="#808080"/>
<rect x="1810" y="160" width="3" height="26" fill="#808080"/>
<rect x="1809" y="162" width="5" height="20" fill="#808080"/>
<rect x="1818" y="183" width="3" height="13" fill="#8b0000"/>
<rect x="1817" y="185" width="5" height="10" fill="#8b0000"/>
<rect x="1826" y="189" width="3" height="13" fill="#8b0000"/>
<rect x="1825" y="190" width="5" height="10" fill="#8b0000"/>
<rect x="1834" y="192" width="3" height="13" fill="#8b0000"/>
<rect x="1833" y="194" width="5" height="10" fill="#8b0000"/>
<rect x="1842" y="197" width="3" height="12" fill="#8b0000"/>
<rect x="1841" y="198" width="5" height="10" fill="#8b0000"/>
<rect x="1850" y="196" width="3" height="16" fill="#8b0000"/>
<rect x="1849" y="198" width="5" height="12" fill="#8b0000"/>
<rect x="1858" y="195" width="3" height="17" fill="#8b0000"/>
<rect x="1857" y="197" width="5" height="11" fill="#8b0000"/>
<rect x="1866" y="194" width="3" height="19" fill="#8b0000"/>
<rect x="1865" y="197" width="5" height="12" fill="#8b0000"/>
</g>
<g clip-path="url(#cm)" shape-rendering="crispEdges">
<path d="M0 421.3 L5 429.3 L11 441.3 L19 451.3 L27 469.9 L35 484 L43 491.7 L51 498.7 L59 503.3 L67 513 L75 522.6 L91 536.7 L107 552.3 L115 556.3 L123 560.3 L131 565.3 L139 571.3 L147 572.3 L155 582.3 L163 593.3 L171 602.8 L179 602.8 L187 602.3 L195 599.3 L203 594.3 L211 582.3 L219 576.3 L227 562.7 L235 552.3 L243 547.3 L251 545.3 L259 544.3 L267 542.9 L275 541.6 L283 541.1 L291 541.6 L299 539.3 L307 531.3 L315 524.9 L323 518.3 L331 511.3 L339 505.3 L347 500.3 L355 497.9 L363 495.3 L371 491.3 L379 487.3 L387 483 L395 478.3 L403 474.3 L411 469.3 L419 467.3 L427 463.3 L435 456.8 L443 452.3 L451 447.3 L459 444.3 L467 443.3 L475 443.3 L483 442.7 L491 440.3 L499 438.8 L507 432.3 L515 424.3 L523 416.9 L531 406.3 L539 395.3 L547 384.8 L555 377.3 L563 373.3 L571 371.3 L579 371.3 L587 374.3 L595 375.8 L603 378.3 L611 387 L619 391.3 L627 394.3 L635 394.3 L643 394.3 L651 395.3 L659 401.3 L667 401.3 L675 395.3 L683 390.3 L691 403.6 L699 409.6 L707 404.5 L715 418.2 L723 440.5 L731 462.8 L739 485.9 L747 502.2 L755 507.4 L763 509.1 L771 513.4 L779 518.5 L787 519.4 L795 517.7 L803 513.4 L811 505.7 L819 491.1 L827 472.2 L835 456.8 L843 443.9 L851 433.6 L859 419.3 L867 414.9 L875 410.3 L883 408.3 L891 407.9 L899 407.9 L907 407.3 L915 400.3 L923 389.9 L931 378.3 L939 366.8 L947 359 L955 353.3 L963 349.3 L971 346.3 L979 344 L987 338.8 L995 334.7 L1003 331.3 L1011 328.5 L1019 327 L1027 327.8 L1035 330.3 L1043 333.7 L1051 339.3 L1059 344 L1067 350.1 L1075 355.3 L1083 357.3 L1091 356.8 L1099 353.3 L1107 349.1 L1115 344 L1123 338.8 L1131 337.3 L1139 335.3 L1147 333.8 L1155 332.8 L1163 332 L1171 331.3 L1179 331.3 L1187 331.3 L1195 331.8 L1203 333.3 L1211 334.6 L1219 332 L1227 330.3 L1235 332 L1243 335.3 L1251 337.3 L1259 342.3 L1267 350 L1275 362.9 L1283 377.3 L1291 387.8 L1299 395.3 L1307 401.9 L1315 408.3 L1323 416.1 L1331 419.3 L1339 422 L1347 424.3 L1355 423.8 L1363 422.3 L1371 422 L1379 420.3 L1387 418.6 L1395 411.7 L1403 404 L1411 398.1 L1419 389.6 L1427 382.3 L1435 377.1 L1443 375.8 L1451 373.3 L1459 353.9 L1467 338.3 L1475 333.3 L1483 321.8 L1491 310.3 L1499 297.3 L1507 285.8 L1515 276.8 L1523 265.3 L1531 253.6 L1539 242 L1547 230.3 L1555 220.3 L1563 206.8 L1571 194.3 L1579 180.3 L1587 167.9 L1595 157.1 L1603 152.8 L1611 143.3 L1619 134.4 L1627 134.4 L1635 138.2 L1643 141.6 L1651 147.6 L1659 155.3 L1667 160.5 L1675 164.8 L1683 168.2 L1691 171.1 L1699 171.1 L1707 167 L1715 162.2 L1723 160.8 L1731 160.5 L1739 160.5 L1747 160.8 L1755 167 L1763 170.3 L1771 174.3 L1779 176.3 L1787 177.3 L1795 178.1 L1803 177.9 L1811 177.9 L1819 180.8 L1827 183.3 L1835 186.3 L1843 190.3 L1851 193.6 L1859 195.3 L1867 196.3 L1872 196.9" stroke="#b4b4b4" stroke-width="6" fill="none" stroke-linejoin="round" stroke-linecap="butt"/>
<path d="M0 421.3 L5 429.3 L11 441.3 L19 451.3 L27 469.9 L35 484 L43 491.7 L51 498.7 L59 503.3 L67 513 L75 522.6 L91 536.7 L107 552.3 L115 556.3 L123 560.3 L131 565.3 L139 571.3 L147 572.3 L155 582.3 L163 593.3 L171 602.8" stroke="#dc143c" stroke-width="4" fill="none" stroke-linejoin="round" stroke-linecap="butt"/>
<path d="M171 602.8 L179 602.8 L187 602.3 L195 599.3 L203 594.3 L211 582.3 L219 576.3 L227 562.7 L235 552.3 L243 547.3 L251 545.3 L259 544.3 L267 542.9 L275 541.6 L283 541.1 L291 541.6 L299 539.3 L307 531.3 L315 524.9 L323 518.3 L331 511.3 L339 505.3 L347 500.3 L355 497.9 L363 495.3 L371 491.3 L379 487.3 L387 483 L395 478.3 L403 474.3 L411 469.3 L419 467.3 L427 463.3 L435 456.8 L443 452.3 L451 447.3 L459 444.3 L467 443.3 L475 443.3 L483 442.7 L491 440.3 L499 438.8 L507 432.3 L515 424.3 L523 416.9 L531 406.3 L539 395.3 L547 384.8 L555 377.3 L563 373.3 L571 371.3 L579 371.3" stroke="#228b22" stroke-width="4" fill="none" stroke-linejoin="round" stroke-linecap="butt"/>
<path d="M579 371.3 L587 374.3 L595 375.8 L603 378.3 L611 387 L619 391.3 L627 394.3 L635 394.3 L643 394.3 L651 395.3 L659 401.3" stroke="#dc143c" stroke-width="4" fill="none" stroke-linejoin="round" stroke-linecap="butt"/>
<path d="M659 401.3 L667 401.3 L675 395.3" stroke="#228b22" stroke-width="4" fill="none" stroke-linejoin="round" stroke-linecap="butt"/>
<path d="M675 395.3 L683 390.3 L691 403.6 L699 409.6 L707 404.5 L715 418.2 L723 440.5 L731 462.8 L739 485.9 L747 502.2 L755 507.4 L763 509.1 L771 513.4 L779 518.5 L787 519.4 L795 517.7" stroke="#dc143c" stroke-width="4" fill="none" stroke-linejoin="round" stroke-linecap="butt"/>
<path d="M795 517.7 L803 513.4 L811 505.7 L819 491.1 L827 472.2 L835 456.8 L843 443.9 L851 433.6 L859 419.3 L867 414.9 L875 410.3 L883 408.3 L891 407.9 L899 407.9 L907 407.3 L915 400.3 L923 389.9 L931 378.3 L939 366.8 L947 359 L955 353.3 L963 349.3 L971 346.3 L979 344 L987 338.8 L995 334.7 L1003 331.3 L1011 328.5 L1019 327 L1027 327.8" stroke="#228b22" stroke-width="4" fill="none" stroke-linejoin="round" stroke-linecap="butt"/>
<path d="M1027 327.8 L1035 330.3 L1043 333.7 L1051 339.3 L1059 344 L1067 350.1 L1075 355.3 L1083 357.3" stroke="#dc143c" stroke-width="4" fill="none" stroke-linejoin="round" stroke-linecap="butt"/>
<path d="M1083 357.3 L1091 356.8 L1099 353.3 L1107 349.1 L1115 344 L1123 338.8 L1131 337.3 L1139 335.3 L1147 333.8 L1155 332.8 L1163 332 L1171 331.3 L1179 331.3 L1187 331.3 L1195 331.8" stroke="#228b22" stroke-width="4" fill="none" stroke-linejoin="round" stroke-linecap="butt"/>
<path d="M1195 331.8 L1203 333.3 L1211 334.6" stroke="#dc143c" stroke-width="4" fill="none" stroke-linejoin="round" stroke-linecap="butt"/>
<path d="M1211 334.6 L1219 332 L1227 330.3" stroke="#228b22" stroke-width="4" fill="none" stroke-linejoin="round" stroke-linecap="butt"/>
<path d="M1227 330.3 L1235 332 L1243 335.3 L1251 337.3 L1259 342.3 L1267 350 L1275 362.9 L1283 377.3 L1291 387.8 L1299 395.3 L1307 401.9 L1315 408.3 L1323 416.1 L1331 419.3 L1339 422 L1347 424.3" stroke="#dc143c" stroke-width="4" fill="none" stroke-linejoin="round" stroke-linecap="butt"/>
<path d="M1347 424.3 L1355 423.8 L1363 422.3 L1371 422 L1379 420.3 L1387 418.6 L1395 411.7 L1403 404 L1411 398.1 L1419 389.6 L1427 382.3 L1435 377.1 L1443 375.8 L1451 373.3 L1459 353.9 L1467 338.3 L1475 333.3 L1483 321.8 L1491 310.3 L1499 297.3 L1507 285.8 L1515 276.8 L1523 265.3 L1531 253.6 L1539 242 L1547 230.3 L1555 220.3 L1563 206.8 L1571 194.3 L1579 180.3 L1587 167.9 L1595 157.1 L1603 152.8 L1611 143.3 L1619 134.4" stroke="#228b22" stroke-width="4" fill="none" stroke-linejoin="round" stroke-linecap="butt"/>
<path d="M1619 134.4 L1627 134.4 L1635 138.2 L1643 141.6 L1651 147.6 L1659 155.3 L1667 160.5 L1675 164.8 L1683 168.2 L1691 171.1 L1699 171.1" stroke="#dc143c" stroke-width="4" fill="none" stroke-linejoin="round" stroke-linecap="butt"/>
<path d="M1699 171.1 L1707 167 L1715 162.2 L1723 160.8 L1731 160.5 L1739 160.5 L1747 160.8" stroke="#228b22" stroke-width="4" fill="none" stroke-linejoin="round" stroke-linecap="butt"/>
<path d="M1747 160.8 L1755 167 L1763 170.3 L1771 174.3 L1779 176.3 L1787 177.3 L1795 178.1" stroke="#dc143c" stroke-width="4" fill="none" stroke-linejoin="round" stroke-linecap="butt"/>
<path d="M1795 178.1 L1803 177.9 L1811 177.9" stroke="#228b22" stroke-width="4" fill="none" stroke-linejoin="round" stroke-linecap="butt"/>
<path d="M1811 177.9 L1819 180.8 L1827 183.3 L1835 186.3 L1843 190.3 L1851 193.6 L1859 195.3 L1867 196.3 L1872 196.9" stroke="#dc143c" stroke-width="4" fill="none" stroke-linejoin="round" stroke-linecap="butt"/>
<path d="M0 405.3 L5 413.3 L11 431.3 L19 448.3 L27 459.3 L35 470.3 L51 482.3 L59 486.3 L75 502.3 L91 515.3 L107 530.3 L123 539.3 L139 548.3 L147 552.3 L155 559.3 L163 570.3 L171 579.3 L179 582.3 L187 582.8 L195 583.3 L203 582.3 L211 576.3 L219 572.3 L227 558.3 L235 543.3 L243 534.3 L251 531.8 L259 531.3 L267 531.8 L275 532.3 L283 533.3 L291 538.3 L299 532.3 L307 519.8 L315 511.3 L323 503.3 L331 494.3 L339 487.3 L347 483.8 L355 483 L363 482 L371 478.3 L379 474.8 L387 470.3 L395 465.3 L403 459.9 L411 454.3 L419 453.3 L427 451.3 L435 443.3 L443 435.7 L451 431.3 L459 427.3 L467 428 L475 431.3 L479 432.3 L483 432.3 L491 429.8 L499 431.3 L507 422.8 L515 410.3 L523 401.3 L531 391.3 L539 374.3 L547 360.3 L555 352.3 L563 350 L571 350.3 L579 352.3 L587 362.9 L595 369.3 L603 374.3 L611 381.3 L619 386.3 L627 389.3 L635 390.3 L643 390.3 L651 391.3 L659 396.3 L667 396.3 L675 393.7 L683 389.3 L691 397.6 L699 402.7 L707 402.2 L715 408.7 L723 420.8 L731 436.2 L739 451.6 L747 465.3 L755 474.8 L763 480.4 L771 486.8 L779 492.4 L787 496.6 L795 497.3 L803 497.3 L811 495.4 L819 485.9 L827 470.5 L835 448.2 L843 425.9 L851 407 L859 393.8 L867 389.9 L875 386.6 L883 386.6 L891 392 L899 393.8 L907 394.3 L915 387.3 L923 371.9 L931 356.3 L939 343.6 L947 336.3 L955 332 L963 328.7 L971 326.9 L979 323.3 L987 319.3 L995 316.7 L1003 314.9 L1011 313.6 L1019 313.6 L1027 315.7 L1035 323.9 L1043 332.1 L1051 337.3 L1059 339.9 L1067 344 L1075 348.3 L1083 350.1 L1091 349.6 L1099 348.3 L1107 345 L1115 340.6 L1123 335.3 L1131 331.3 L1139 329.3 L1147 328.3 L1155 327.3 L1163 326.9 L1171 327.3 L1179 328.7 L1187 328.7 L1195 328.7 L1203 329.3 L1211 332 L1219 328.7 L1227 326.9 L1235 330.3 L1243 333.3 L1251 334.6 L1259 338.3 L1267 343.6 L1275 352.6 L1283 363.3 L1291 372.3 L1299 378.8 L1307 383.9 L1315 390.3 L1323 396.3 L1331 399.9 L1339 403.3 L1347 407.6 L1355 409.1 L1363 410.1 L1371 410.9 L1379 411.3 L1387 410.9 L1395 408.3 L1403 401.9 L1411 394.3 L1419 383.9 L1427 373.3 L1435 364.3 L1443 362.9 L1451 361.3 L1459 328.3 L1467 307.3 L1475 306.3 L1483 292.3 L1491 279.3 L1499 267.8 L1507 252.3 L1515 244.6 L1523 231 L1531 217.6 L1539 207.3 L1547 195 L1555 182.3 L1563 165.3 L1571 149.9 L1579 138.3 L1587 128.8 L1595 120.3 L1603 115 L1611 106.5 L1619 98.4 L1627 103 L1635 115.6 L1643 126.2 L1651 138.2 L1659 148.8 L1667 156.2 L1675 159.6 L1683 163.1 L1691 165.3 L1699 165.3 L1707 161.9 L1715 159.1 L1723 158.4 L1731 158.4 L1739 158.4 L1747 159.1 L1755 163.1 L1763 166 L1771 168.3 L1779 170.3 L1787 171.8 L1795 173 L1803 174.1 L1811 174.3 L1819 175.6 L1827 177.3 L1835 180.1 L1843 183.3 L1851 185.9 L1859 187.8 L1867 189.1 L1872 189.88" stroke="#b4b4b4" stroke-width="6" fill="none" stroke-linejoin="round" stroke-linecap="butt"/>
<path d="M0 405.3 L5 413.3 L11 431.3 L19 448.3 L27 459.3 L35 470.3 L51 482.3 L59 486.3 L75 502.3 L91 515.3 L107 530.3 L123 539.3 L139 548.3 L147 552.3 L155 559.3 L163 570.3 L171 579.3 L179 582.3 L187 582.8 L195 583.3" stroke="#dc143c" stroke-width="4" fill="none" stroke-linejoin="round" stroke-linecap="butt"/>
<path d="M195 583.3 L203 582.3 L211 576.3 L219 572.3 L227 558.3 L235 543.3 L243 534.3 L251 531.8 L259 531.3 L267 531.8 L275 532.3 L283 533.3" stroke="#228b22" stroke-width="4" fill="none" stroke-linejoin="round" stroke-linecap="butt"/>
<path d="M283 533.3 L291 538.3" stroke="#dc143c" stroke-width="4" fill="none" stroke-linejoin="round" stroke-linecap="butt"/>
<path d="M291 538.3 L299 532.3 L307 519.8 L315 511.3 L323 503.3 L331 494.3 L339 487.3 L347 483.8 L355 483 L363 482 L371 478.3 L379 474.8 L387 470.3 L395 465.3 L403 459.9 L411 454.3 L419 453.3 L427 451.3 L435 443.3 L443 435.7 L451 431.3 L459 427.3 L467 428" stroke="#228b22" stroke-width="4" fill="none" stroke-linejoin="round" stroke-linecap="butt"/>
<path d="M467 428 L475 431.3 L479 432.3" stroke="#dc143c" stroke-width="4" fill="none" stroke-linejoin="round" stroke-linecap="butt"/>
<path d="M479 432.3 L483 432.3 L491 429.8 L499 431.3 L507 422.8 L515 410.3 L523 401.3 L531 391.3 L539 374.3 L547 360.3 L555 352.3 L563 350 L571 350.3" stroke="#228b22" stroke-width="4" fill="none" stroke-linejoin="round" stroke-linecap="butt"/>
<path d="M571 350.3 L579 352.3 L587 362.9 L595 369.3 L603 374.3 L611 381.3 L619 386.3 L627 389.3 L635 390.3 L643 390.3 L651 391.3 L659 396.3" stroke="#dc143c" stroke-width="4" fill="none" stroke-linejoin="round" stroke-linecap="butt"/>
<path d="M659 396.3 L667 396.3 L675 393.7" stroke="#228b22" stroke-width="4" fill="none" stroke-linejoin="round" stroke-linecap="butt"/>
<path d="M675 393.7 L683 389.3 L691 397.6 L699 402.7 L707 402.2 L715 408.7 L723 420.8 L731 436.2 L739 451.6 L747 465.3 L755 474.8 L763 480.4 L771 486.8 L779 492.4 L787 496.6 L795 497.3 L803 497.3" stroke="#dc143c" stroke-width="4" fill="none" stroke-linejoin="round" stroke-linecap="butt"/>
<path d="M803 497.3 L811 495.4 L819 485.9 L827 470.5 L835 448.2 L843 425.9 L851 407 L859 393.8 L867 389.9 L875 386.6 L883 386.6 L891 392" stroke="#228b22" stroke-width="4" fill="none" stroke-linejoin="round" stroke-linecap="butt"/>
<path d="M891 392 L899 393.8 L907 394.3" stroke="#dc143c" stroke-width="4" fill="none" stroke-linejoin="round" stroke-linecap="butt"/>
<path d="M907 394.3 L915 387.3 L923 371.9 L931 356.3 L939 343.6 L947 336.3 L955 332 L963 328.7 L971 326.9 L979 323.3 L987 319.3 L995 316.7 L1003 314.9 L1011 313.6 L1019 313.6 L1027 315.7" stroke="#228b22" stroke-width="4" fill="none" stroke-linejoin="round" stroke-linecap="butt"/>
<path d="M1027 315.7 L1035 323.9 L1043 332.1 L1051 337.3 L1059 339.9 L1067 344 L1075 348.3 L1083 350.1" stroke="#dc143c" stroke-width="4" fill="none" stroke-linejoin="round" stroke-linecap="butt"/>
<path d="M1083 350.1 L1091 349.6 L1099 348.3 L1107 345 L1115 340.6 L1123 335.3 L1131 331.3 L1139 329.3 L1147 328.3 L1155 327.3 L1163 326.9 L1171 327.3" stroke="#228b22" stroke-width="4" fill="none" stroke-linejoin="round" stroke-linecap="butt"/>
<path d="M1171 327.3 L1179 328.7 L1187 328.7 L1195 328.7 L1203 329.3 L1211 332" stroke="#dc143c" stroke-width="4" fill="none" stroke-linejoin="round" stroke-linecap="butt"/>
<path d="M1211 332 L1219 328.7 L1227 326.9" stroke="#228b22" stroke-width="4" fill="none" stroke-linejoin="round" stroke-linecap="butt"/>
<path d="M1227 326.9 L1235 330.3 L1243 333.3 L1251 334.6 L1259 338.3 L1267 343.6 L1275 352.6 L1283 363.3 L1291 372.3 L1299 378.8 L1307 383.9 L1315 390.3 L1323 396.3 L1331 399.9 L1339 403.3 L1347 407.6 L1355 409.1 L1363 410.1 L1371 410.9 L1379 411.3" stroke="#dc143c" stroke-width="4" fill="none" stroke-linejoin="round" stroke-linecap="butt"/>
<path d="M1379 411.3 L1387 410.9 L1395 408.3 L1403 401.9 L1411 394.3 L1419 383.9 L1427 373.3 L1435 364.3 L1443 362.9 L1451 361.3 L1459 328.3 L1467 307.3 L1475 306.3 L1483 292.3 L1491 279.3 L1499 267.8 L1507 252.3 L1515 244.6 L1523 231 L1531 217.6 L1539 207.3 L1547 195 L1555 182.3 L1563 165.3 L1571 149.9 L1579 138.3 L1587 128.8 L1595 120.3 L1603 115 L1611 106.5 L1619 98.4" stroke="#228b22" stroke-width="4" fill="none" stroke-linejoin="round" stroke-linecap="butt"/>
<path d="M1619 98.4 L1627 103 L1635 115.6 L1643 126.2 L1651 138.2 L1659 148.8 L1667 156.2 L1675 159.6 L1683 163.1 L1691 165.3 L1699 165.3" stroke="#dc143c" stroke-width="4" fill="none" stroke-linejoin="round" stroke-linecap="butt"/>
<path d="M1699 165.3 L1707 161.9 L1715 159.1 L1723 158.4 L1731 158.4 L1739 158.4 L1747 159.1" stroke="#228b22" stroke-width="4" fill="none" stroke-linejoin="round" stroke-linecap="butt"/>
<path d="M1747 159.1 L1755 163.1 L1763 166 L1771 168.3 L1779 170.3 L1787 171.8 L1795 173 L1803 174.1 L1811 174.3 L1819 175.6 L1827 177.3 L1835 180.1 L1843 183.3 L1851 185.9 L1859 187.8 L1867 189.1 L1872 189.88" stroke="#dc143c" stroke-width="4" fill="none" stroke-linejoin="round" stroke-linecap="butt"/>
</g>
<g clip-path="url(#cm)">
<path d="M0 1.5L2.1 0L8.1 5.1L8.1 0.2L11.4 2.6L11.4 11.1L2.4 11.1L0 8.4L5.1 8.1Z" fill="#ff0000" transform="translate(5.7 449.3)"/>
<path d="M0 1.5L2.1 0L8.1 5.1L8.1 0.2L11.4 2.6L11.4 11.1L2.4 11.1L0 8.4L5.1 8.1Z" fill="#ff0000" transform="translate(467.6 421.8)"/>
<path d="M0 1.5L2.1 0L8.1 5.1L8.1 0.2L11.4 2.6L11.4 11.1L2.4 11.1L0 8.4L5.1 8.1Z" fill="#ff0000" transform="translate(574 305)"/>
<path d="M0 1.5L2.1 0L8.1 5.1L8.1 0.2L11.4 2.6L11.4 11.1L2.4 11.1L0 8.4L5.1 8.1Z" fill="#ff0000" transform="translate(1021.4 293)"/>
<path d="M0 1.5L2.1 0L8.1 5.1L8.1 0.2L11.4 2.6L11.4 11.1L2.4 11.1L0 8.4L5.1 8.1Z" fill="#ff0000" transform="translate(1173.5 317)"/>
<path d="M0 1.5L2.1 0L8.1 5.1L8.1 0.2L11.4 2.6L11.4 11.1L2.4 11.1L0 8.4L5.1 8.1Z" fill="#ff0000" transform="translate(1229.3 314)"/>
<path d="M0 1.5L2.1 0L8.1 5.1L8.1 0.2L11.4 2.6L11.4 11.1L2.4 11.1L0 8.4L5.1 8.1Z" fill="#ff0000" transform="translate(1621.7 61)"/>
<path d="M2.8 0.2L11.8 0.2L11.8 8.4L7.9 11.4L7.5 7.1L2.1 11.4L0.2 8.8L4.7 3.4L0.2 3Z" fill="#00ff00" transform="translate(197.4 619.8)"/>
<path d="M2.8 0.2L11.8 0.2L11.8 8.4L7.9 11.4L7.5 7.1L2.1 11.4L0.2 8.8L4.7 3.4L0.2 3Z" fill="#00ff00" transform="translate(509.7 395.8)"/>
<path d="M2.8 0.2L11.8 0.2L11.8 8.4L7.9 11.4L7.5 7.1L2.1 11.4L0.2 8.8L4.7 3.4L0.2 3Z" fill="#00ff00" transform="translate(797.3 557.6)"/>
<path d="M2.8 0.2L11.8 0.2L11.8 8.4L7.9 11.4L7.5 7.1L2.1 11.4L0.2 8.8L4.7 3.4L0.2 3Z" fill="#00ff00" transform="translate(1110 336.8)"/>
<path d="M2.8 0.2L11.8 0.2L11.8 8.4L7.9 11.4L7.5 7.1L2.1 11.4L0.2 8.8L4.7 3.4L0.2 3Z" fill="#00ff00" transform="translate(1213 348.7)"/>
<path d="M2.8 0.2L11.8 0.2L11.8 8.4L7.9 11.4L7.5 7.1L2.1 11.4L0.2 8.8L4.7 3.4L0.2 3Z" fill="#00ff00" transform="translate(1365.7 459.3)"/>
<circle cx="162.5" cy="646.5" r="17.3" fill="none" stroke="#00ff00" stroke-width="4"/>
<circle cx="162.5" cy="646.5" r="6.6" fill="#00ff00"/>
<circle cx="746.8" cy="593.4" r="17.3" fill="none" stroke="#00ff00" stroke-width="4"/>
<circle cx="746.8" cy="593.4" r="6.6" fill="#00ff00"/>
<circle cx="1330.5" cy="443.6" r="17.3" fill="none" stroke="#00ff00" stroke-width="4"/>
<circle cx="1330.5" cy="443.6" r="6.6" fill="#00ff00"/>
<circle cx="554.8" cy="307.6" r="17.3" fill="none" stroke="#ff0000" stroke-width="4"/>
<circle cx="554.8" cy="307.6" r="6.6" fill="#ff0000"/>
<circle cx="946.8" cy="302.4" r="17.3" fill="none" stroke="#ff0000" stroke-width="4"/>
<circle cx="946.8" cy="302.4" r="6.6" fill="#ff0000"/>
<circle cx="1603" cy="69.4" r="17.3" fill="none" stroke="#ff0000" stroke-width="4"/>
<circle cx="1603" cy="69.4" r="6.6" fill="#ff0000"/>
</g>
<g clip-path="url(#ci)" shape-rendering="crispEdges">
<rect x="1" y="779" width="5" height="20" fill="#228b22"/>
<rect x="9" y="785" width="5" height="14" fill="#228b22"/>
<rect x="17" y="791" width="5" height="8" fill="#228b22"/>
<rect x="25" y="798" width="5" height="1" fill="#228b22"/>
<rect x="32" y="799" width="7" height="6" fill="#8b0000"/>
<rect x="40" y="799" width="7" height="12" fill="#8b0000"/>
<rect x="48" y="799" width="7" height="19" fill="#8b0000"/>
<rect x="56" y="799" width="7" height="26" fill="#8b0000"/>
<rect x="64" y="799" width="7" height="33" fill="#8b0000"/>
<rect x="72" y="799" width="7" height="39" fill="#8b0000"/>
<rect x="80" y="799" width="7" height="46" fill="#8b0000"/>
<rect x="88" y="799" width="7" height="52" fill="#8b0000"/>
<rect x="96" y="799" width="7" height="59" fill="#8b0000"/>
<rect x="104" y="799" width="7" height="65" fill="#8b0000"/>
<rect x="112" y="799" width="7" height="72" fill="#8b0000"/>
<rect x="121" y="799" width="5" height="69" fill="#dc143c"/>
<rect x="129" y="799" width="5" height="66" fill="#dc143c"/>
<rect x="137" y="799" width="5" height="64" fill="#dc143c"/>
<rect x="145" y="799" width="5" height="61" fill="#dc143c"/>
<rect x="153" y="799" width="5" height="58" fill="#dc143c"/>
<rect x="161" y="799" width="5" height="56" fill="#dc143c"/>
<rect x="169" y="799" width="5" height="53" fill="#dc143c"/>
<rect x="177" y="799" width="5" height="50" fill="#dc143c"/>
<rect x="185" y="799" width="5" height="48" fill="#dc143c"/>
<rect x="193" y="799" width="5" height="45" fill="#dc143c"/>
<rect x="201" y="799" width="5" height="43" fill="#dc143c"/>
<rect x="209" y="799" width="5" height="40" fill="#dc143c"/>
<rect x="217" y="799" width="5" height="34" fill="#dc143c"/>
<rect x="225" y="799" width="5" height="28" fill="#dc143c"/>
<rect x="233" y="799" width="5" height="23" fill="#dc143c"/>
<rect x="241" y="799" width="5" height="17" fill="#dc143c"/>
<rect x="249" y="799" width="5" height="13" fill="#dc143c"/>
<rect x="257" y="799" width="5" height="10" fill="#dc143c"/>
<rect x="265" y="799" width="5" height="8" fill="#dc143c"/>
<rect x="273" y="799" width="5" height="5" fill="#dc143c"/>
<rect x="281" y="799" width="5" height="2" fill="#dc143c"/>
<rect x="288" y="797" width="7" height="2" fill="#006400"/>
<rect x="296" y="794" width="7" height="5" fill="#006400"/>
<rect x="304" y="792" width="7" height="7" fill="#006400"/>
<rect x="312" y="789" width="7" height="10" fill="#006400"/>
<rect x="320" y="786" width="7" height="13" fill="#006400"/>
<rect x="328" y="783" width="7" height="16" fill="#006400"/>
<rect x="336" y="780" width="7" height="19" fill="#006400"/>
<rect x="344" y="780" width="7" height="19" fill="#006400"/>
<rect x="352" y="779" width="7" height="20" fill="#006400"/>
<rect x="360" y="779" width="7" height="20" fill="#006400"/>
<rect x="368" y="778" width="7" height="21" fill="#006400"/>
<rect x="376" y="778" width="7" height="21" fill="#006400"/>
<rect x="384" y="777" width="7" height="22" fill="#006400"/>
<rect x="392" y="777" width="7" height="22" fill="#006400"/>
<rect x="400" y="777" width="7" height="22" fill="#006400"/>
<rect x="408" y="776" width="7" height="23" fill="#006400"/>
<rect x="416" y="776" width="7" height="23" fill="#006400"/>
<rect x="424" y="776" width="7" height="23" fill="#006400"/>
<rect x="432" y="776" width="7" height="23" fill="#006400"/>
<rect x="440" y="775" width="7" height="24" fill="#006400"/>
<rect x="448" y="774" width="7" height="25" fill="#006400"/>
<rect x="456" y="774" width="7" height="25" fill="#006400"/>
<rect x="464" y="773" width="7" height="26" fill="#006400"/>
<rect x="472" y="770" width="7" height="29" fill="#006400"/>
<rect x="480" y="767" width="7" height="32" fill="#006400"/>
<rect x="488" y="764" width="7" height="35" fill="#006400"/>
<rect x="496" y="760" width="7" height="39" fill="#006400"/>
<rect x="504" y="757" width="7" height="42" fill="#006400"/>
<rect x="512" y="754" width="7" height="45" fill="#006400"/>
<rect x="520" y="750" width="7" height="49" fill="#006400"/>
<rect x="528" y="748" width="7" height="51" fill="#006400"/>
<rect x="536" y="744" width="7" height="55" fill="#006400"/>
<rect x="544" y="741" width="7" height="58" fill="#006400"/>
<rect x="552" y="738" width="7" height="61" fill="#006400"/>
<rect x="560" y="734" width="7" height="65" fill="#006400"/>
<rect x="568" y="731" width="7" height="68" fill="#006400"/>
<rect x="576" y="728" width="7" height="71" fill="#006400"/>
<rect x="584" y="724" width="7" height="75" fill="#006400"/>
<rect x="592" y="721" width="7" height="78" fill="#006400"/>
<rect x="601" y="730" width="5" height="69" fill="#228b22"/>
<rect x="609" y="738" width="5" height="61" fill="#228b22"/>
<rect x="617" y="747" width="5" height="52" fill="#228b22"/>
<rect x="625" y="756" width="5" height="43" fill="#228b22"/>
<rect x="633" y="765" width="5" height="34" fill="#228b22"/>
<rect x="641" y="773" width="5" height="26" fill="#228b22"/>
<rect x="649" y="782" width="5" height="17" fill="#228b22"/>
<rect x="657" y="791" width="5" height="8" fill="#228b22"/>
<rect x="664" y="799" width="7" height="1" fill="#8b0000"/>
<rect x="672" y="799" width="7" height="11" fill="#8b0000"/>
<rect x="680" y="799" width="7" height="19" fill="#8b0000"/>
<rect x="688" y="799" width="7" height="28" fill="#8b0000"/>
<rect x="696" y="799" width="7" height="34" fill="#8b0000"/>
<rect x="704" y="799" width="7" height="46" fill="#8b0000"/>
<rect x="712" y="799" width="7" height="54" fill="#8b0000"/>
<rect x="720" y="799" width="7" height="62" fill="#8b0000"/>
<rect x="729" y="799" width="5" height="55" fill="#dc143c"/>
<rect x="737" y="799" width="5" height="46" fill="#dc143c"/>
<rect x="745" y="799" width="5" height="38" fill="#dc143c"/>
<rect x="753" y="799" width="5" height="30" fill="#dc143c"/>
<rect x="761" y="799" width="5" height="21" fill="#dc143c"/>
<rect x="769" y="799" width="5" height="13" fill="#dc143c"/>
<rect x="777" y="799" width="5" height="5" fill="#dc143c"/>
<rect x="784" y="794" width="7" height="5" fill="#006400"/>
<rect x="792" y="786" width="7" height="13" fill="#006400"/>
<rect x="800" y="778" width="7" height="21" fill="#006400"/>
<rect x="808" y="769" width="7" height="30" fill="#006400"/>
<rect x="816" y="761" width="7" height="38" fill="#006400"/>
<rect x="824" y="753" width="7" height="46" fill="#006400"/>
<rect x="832" y="744" width="7" height="55" fill="#006400"/>
<rect x="840" y="736" width="7" height="63" fill="#006400"/>
<rect x="848" y="728" width="7" height="71" fill="#006400"/>
<rect x="857" y="728" width="5" height="71" fill="#228b22"/>
<rect x="865" y="728" width="5" height="71" fill="#228b22"/>
<rect x="873" y="728" width="5" height="71" fill="#228b22"/>
<rect x="881" y="728" width="5" height="71" fill="#228b22"/>
<rect x="889" y="728" width="5" height="71" fill="#228b22"/>
<rect x="897" y="728" width="5" height="71" fill="#228b22"/>
<rect x="905" y="728" width="5" height="71" fill="#228b22"/>
<rect x="913" y="728" width="5" height="71" fill="#228b22"/>
<rect x="921" y="728" width="5" height="71" fill="#228b22"/>
<rect x="929" y="728" width="5" height="71" fill="#228b22"/>
<rect x="937" y="728" width="5" height="71" fill="#228b22"/>
<rect x="945" y="728" width="5" height="71" fill="#228b22"/>
<rect x="953" y="732" width="5" height="67" fill="#228b22"/>
<rect x="961" y="736" width="5" height="63" fill="#228b22"/>
<rect x="969" y="740" width="5" height="59" fill="#228b22"/>
<rect x="977" y="743" width="5" height="56" fill="#228b22"/>
<rect x="985" y="747" width="5" height="52" fill="#228b22"/>
<rect x="993" y="751" width="5" height="48" fill="#228b22"/>
<rect x="1001" y="754" width="5" height="45" fill="#228b22"/>
<rect x="1009" y="758" width="5" height="41" fill="#228b22"/>
<rect x="1017" y="762" width="5" height="37" fill="#228b22"/>
<rect x="1025" y="765" width="5" height="34" fill="#228b22"/>
<rect x="1033" y="769" width="5" height="30" fill="#228b22"/>
<rect x="1041" y="773" width="5" height="26" fill="#228b22"/>
<rect x="1049" y="776" width="5" height="23" fill="#228b22"/>
<rect x="1057" y="780" width="5" height="19" fill="#228b22"/>
<rect x="1065" y="784" width="5" height="15" fill="#228b22"/>
<rect x="1073" y="787" width="5" height="12" fill="#228b22"/>
<rect x="1080" y="786" width="7" height="13" fill="#006400"/>
<rect x="1088" y="785" width="7" height="14" fill="#006400"/>
<rect x="1096" y="784" width="7" height="15" fill="#006400"/>
<rect x="1104" y="783" width="7" height="16" fill="#006400"/>
<rect x="1112" y="782" width="7" height="17" fill="#006400"/>
<rect x="1120" y="781" width="7" height="18" fill="#006400"/>
<rect x="1128" y="780" width="7" height="19" fill="#006400"/>
<rect x="1136" y="780" width="7" height="19" fill="#006400"/>
<rect x="1144" y="778" width="7" height="21" fill="#006400"/>
<rect x="1152" y="777" width="7" height="22" fill="#006400"/>
<rect x="1160" y="776" width="7" height="23" fill="#006400"/>
<rect x="1168" y="775" width="7" height="24" fill="#006400"/>
<rect x="1176" y="774" width="7" height="25" fill="#006400"/>
<rect x="1184" y="773" width="7" height="26" fill="#006400"/>
<rect x="1192" y="771" width="7" height="28" fill="#006400"/>
<rect x="1200" y="770" width="7" height="29" fill="#006400"/>
<rect x="1209" y="779" width="5" height="20" fill="#228b22"/>
<rect x="1217" y="787" width="5" height="12" fill="#228b22"/>
<rect x="1225" y="795" width="5" height="4" fill="#228b22"/>
<rect x="1232" y="799" width="7" height="4" fill="#8b0000"/>
<rect x="1240" y="799" width="7" height="12" fill="#8b0000"/>
<rect x="1248" y="799" width="7" height="21" fill="#8b0000"/>
<rect x="1256" y="799" width="7" height="29" fill="#8b0000"/>
<rect x="1264" y="799" width="7" height="38" fill="#8b0000"/>
<rect x="1272" y="799" width="7" height="46" fill="#8b0000"/>
<rect x="1280" y="799" width="7" height="54" fill="#8b0000"/>
<rect x="1288" y="799" width="7" height="62" fill="#8b0000"/>
<rect x="1296" y="799" width="7" height="69" fill="#8b0000"/>
<rect x="1304" y="799" width="7" height="78" fill="#8b0000"/>
<rect x="1312" y="799" width="7" height="87" fill="#8b0000"/>
<rect x="1320" y="799" width="7" height="95" fill="#8b0000"/>
<rect x="1328" y="799" width="7" height="99" fill="#8b0000"/>
<rect x="1337" y="799" width="5" height="90" fill="#dc143c"/>
<rect x="1345" y="799" width="5" height="76" fill="#dc143c"/>
<rect x="1353" y="799" width="5" height="63" fill="#dc143c"/>
<rect x="1361" y="799" width="5" height="50" fill="#dc143c"/>
<rect x="1369" y="799" width="5" height="37" fill="#dc143c"/>
<rect x="1377" y="799" width="5" height="23" fill="#dc143c"/>
<rect x="1385" y="799" width="5" height="10" fill="#dc143c"/>
<rect x="1392" y="795" width="7" height="4" fill="#006400"/>
<rect x="1400" y="782" width="7" height="17" fill="#006400"/>
<rect x="1408" y="769" width="7" height="30" fill="#006400"/>
<rect x="1416" y="756" width="7" height="43" fill="#006400"/>
<rect x="1424" y="742" width="7" height="57" fill="#006400"/>
<rect x="1432" y="729" width="7" height="70" fill="#006400"/>
<rect x="1440" y="716" width="7" height="83" fill="#006400"/>
<rect x="1448" y="702" width="7" height="97" fill="#006400"/>
<rect x="1456" y="689" width="7" height="110" fill="#006400"/>
<rect x="1465" y="692" width="5" height="107" fill="#228b22"/>
<rect x="1473" y="694" width="5" height="105" fill="#228b22"/>
<rect x="1481" y="697" width="5" height="102" fill="#228b22"/>
<rect x="1489" y="700" width="5" height="99" fill="#228b22"/>
<rect x="1497" y="702" width="5" height="97" fill="#228b22"/>
<rect x="1505" y="705" width="5" height="94" fill="#228b22"/>
<rect x="1513" y="708" width="5" height="91" fill="#228b22"/>
<rect x="1521" y="711" width="5" height="88" fill="#228b22"/>
<rect x="1529" y="713" width="5" height="86" fill="#228b22"/>
<rect x="1537" y="716" width="5" height="83" fill="#228b22"/>
<rect x="1545" y="719" width="5" height="80" fill="#228b22"/>
<rect x="1553" y="721" width="5" height="78" fill="#228b22"/>
<rect x="1561" y="724" width="5" height="75" fill="#228b22"/>
<rect x="1569" y="727" width="5" height="72" fill="#228b22"/>
<rect x="1577" y="729" width="5" height="70" fill="#228b22"/>
<rect x="1585" y="732" width="5" height="67" fill="#228b22"/>
<rect x="1593" y="735" width="5" height="64" fill="#228b22"/>
<rect x="1601" y="738" width="5" height="61" fill="#228b22"/>
<rect x="1609" y="741" width="5" height="58" fill="#228b22"/>
<rect x="1617" y="744" width="5" height="55" fill="#228b22"/>
<rect x="1625" y="748" width="5" height="51" fill="#228b22"/>
<rect x="1633" y="751" width="5" height="48" fill="#228b22"/>
<rect x="1641" y="754" width="5" height="45" fill="#228b22"/>
<rect x="1649" y="757" width="5" height="42" fill="#228b22"/>
<rect x="1657" y="760" width="5" height="39" fill="#228b22"/>
<rect x="1665" y="763" width="5" height="36" fill="#228b22"/>
<rect x="1673" y="766" width="5" height="33" fill="#228b22"/>
<rect x="1681" y="769" width="5" height="30" fill="#228b22"/>
<rect x="1689" y="773" width="5" height="26" fill="#228b22"/>
<rect x="1697" y="777" width="5" height="22" fill="#228b22"/>
<rect x="1705" y="780" width="5" height="19" fill="#228b22"/>
<rect x="1713" y="784" width="5" height="15" fill="#228b22"/>
<rect x="1721" y="785" width="5" height="14" fill="#228b22"/>
<rect x="1729" y="785" width="5" height="14" fill="#228b22"/>
<rect x="1737" y="786" width="5" height="13" fill="#228b22"/>
<rect x="1745" y="787" width="5" height="12" fill="#228b22"/>
<rect x="1753" y="787" width="5" height="12" fill="#228b22"/>
<rect x="1761" y="788" width="5" height="11" fill="#228b22"/>
<rect x="1769" y="789" width="5" height="10" fill="#228b22"/>
<rect x="1777" y="789" width="5" height="10" fill="#228b22"/>
<rect x="1785" y="790" width="5" height="9" fill="#228b22"/>
<rect x="1793" y="790" width="5" height="9" fill="#228b22"/>
<rect x="1801" y="791" width="5" height="8" fill="#228b22"/>
<rect x="1809" y="792" width="5" height="7" fill="#228b22"/>
<rect x="1817" y="795" width="5" height="4" fill="#228b22"/>
<rect x="1825" y="797" width="5" height="2" fill="#228b22"/>
<rect x="1832" y="799" width="7" height="2" fill="#8b0000"/>
<rect x="1840" y="799" width="7" height="4" fill="#8b0000"/>
<rect x="1848" y="799" width="7" height="7" fill="#8b0000"/>
<rect x="1856" y="799" width="7" height="9" fill="#8b0000"/>
<rect x="1864" y="799" width="7" height="12" fill="#8b0000"/>
</g>
<g clip-path="url(#ci)" shape-rendering="crispEdges">
<path d="M3 778.3 L11 781.6 L27 790.5 L43 801.2 L59 809.7 L75 819.3 L91 829.6 L107 837.7 L123 845.9 L139 853.8 L155 860.7 L171 866.3 L187 868.8 L195 868.8 L203 865.3 L211 859.4 L219 850.5 L227 840.3 L235 830 L243 821 L251 812.7 L259 807 L267 802 L275 796.9 L283 793.8 L291 792.3 L299 787.2 L307 782.9 L323 775.2 L339 762.5 L355 754.8 L371 746.4 L387 739.5 L403 732.4 L419 726.7 L427 723.4 L435 720.9 L443 719.9 L451 716.5 L459 714.8 L467 712.7 L475 715.8 L483 717.3 L491 719.9 L499 722.9 L507 722.9 L515 721.6 L523 720.4 L531 719 L539 717.8 L547 715.3 L555 713.2 L563 710.9 L571 708.9 L579 710.9 L587 715.3 L595 721.6 L603 730 L611 737.7 L619 745.4 L627 753.5 L643 765 L659 777.3 L675 781.6 L691 789.2 L707 799 L723 812.2 L739 827.5 L755 840.3 L771 851.7 L787 858.6 L795 861 L803 860 L811 856.8 L819 850.5 L827 842.3 L835 831.3 L843 821 L851 811 L859 801.5 L867 793 L875 785.4 L883 779.6 L891 775.2 L899 771.9 L907 768.3 L915 764.5 L923 760 L931 755.6 L939 752.3 L955 744.6 L971 737.7 L987 730 L1003 724.7 L1019 723.4 L1027 724.7 L1035 728 L1043 736.2 L1051 743.8 L1059 752.3 L1067 761.2 L1075 769.3 L1083 777.8 L1091 783.6 L1099 786.7 L1107 788 L1115 786.2 L1123 784 L1131 781.6 L1139 779.6 L1147 778.3 L1155 776 L1163 774.4 L1171 774 L1179 774 L1187 774.7 L1195 775.7 L1203 777 L1211 778.3 L1219 777.8 L1227 777.3 L1235 779.8 L1243 784 L1251 791.8 L1267 809 L1283 826 L1299 841.5 L1315 853.8 L1331 863.2 L1339 867 L1347 870 L1355 871.4 L1363 872 L1371 870.9 L1379 868.8 L1387 865.8 L1395 859.4 L1403 852.5 L1411 844 L1419 834.4 L1427 823.7 L1435 813.5 L1443 804 L1451 794.3 L1459 785.4 L1467 776.5 L1475 767.6 L1483 760 L1491 752.8 L1499 745.9 L1507 740.8 L1515 735.2 L1523 730 L1531 726 L1539 722.9 L1547 719.6 L1555 716.5 L1563 712 L1579 707 L1595 703.8 L1611 700.7 L1619 700.5 L1627 701.7 L1635 706.3 L1643 712.7 L1651 720.9 L1659 729.3 L1667 737.5 L1675 745.4 L1683 753 L1691 760.7 L1699 766.8 L1707 770.9 L1715 773.2 L1723 775.2 L1731 777.3 L1739 778.5 L1747 781 L1755 785.4 L1763 790.5 L1771 796 L1779 802 L1787 806.6 L1795 811 L1803 813.5 L1811 815.3 L1819 818 L1827 822.4 L1835 827 L1843 830.6 L1851 834.4 L1859 837.7 L1864 839" stroke="#f6f6e6" stroke-width="1" fill="none" stroke-dasharray="3 3.5"/>
<path d="M3 778.3 L11 800.7 L19 811.7 L27 828.8 L35 833.9 L43 837.7 L51 837.7 L59 843.3 L67 849.2 L75 853.5 L83 858.6 L91 864.5 L99 869.6 L107 871.4 L115 873.4 L123 875.5 L131 878.5 L139 880.6 L147 881 L155 887.5 L163 892.6 L171 892.6 L179 877.3 L187 871.4 L195 870.9" stroke="#ff0000" stroke-width="2" fill="none" stroke-linejoin="round"/>
<path d="M195 870.9 L203 840.3 L211 808.4 L219 786.7 L227 767.6 L235 756.6 L243 753 L251 752.8 L259 752.8 L267 758.6 L275 766.3 L283 772.7 L291 786.2 L299 763.7 L307 749.7 L315 742.8 L323 733.6 L331 727.3 L339 723.4 L347 722.9 L355 722.9 L363 722.9 L371 719 L379 715.8 L387 712.7 L395 710.2 L403 707 L411 706.3 L419 705.6 L427 704.6 L435 700.7 L443 700 L451 697.4 L459 696.6 L467 707" stroke="#00ff00" stroke-width="2" fill="none" stroke-linejoin="round"/>
<path d="M467 707 L475 732.6 L483 728.5 L491 738.7 L499 738.7 L507 725.5" stroke="#ff0000" stroke-width="2" fill="none" stroke-linejoin="round"/>
<path d="M507 725.5 L515 717.3 L523 710.2 L531 708 L539 702.5 L547 700 L555 697.9 L563 697.4 L571 697.4" stroke="#00ff00" stroke-width="2" fill="none" stroke-linejoin="round"/>
<path d="M571 697.4 L579 717.8 L587 759 L595 764.2 L603 774 L611 799 L619 807 L627 816.8 L635 808.4 L643 803.8 L651 816.8 L659 823 L667 805.8 L675 786.2 L683 804.5 L691 834.6 L699 834.6 L707 825.7 L715 854.3 L723 864.5 L731 874.7 L739 883 L747 886 L755 886 L763 887.5 L771 888.7 L779 890 L787 879.3 L795 878.5" stroke="#ff0000" stroke-width="2" fill="none" stroke-linejoin="round"/>
<path d="M795 878.5 L803 859.4 L811 827.5 L819 798 L827 771.4 L835 757.4 L843 744.6 L851 737 L859 732.6 L867 731.8 L875 729.8 L883 738.2 L891 742 L899 751 L907 747 L915 738.2 L923 729.8 L931 721.6 L939 718.3 L947 715.3 L955 713.5 L963 712.7 L971 712 L979 709.4 L987 708.4 L995 707.6 L1003 707.6 L1011 715.8 L1019 715.8" stroke="#00ff00" stroke-width="2" fill="none" stroke-linejoin="round"/>
<path d="M1019 715.8 L1027 724.2 L1035 767.6 L1043 795.6 L1051 803.8 L1059 812.2 L1067 828 L1075 835.7 L1083 837.2 L1091 823 L1099 811 L1107 795.6" stroke="#ff0000" stroke-width="2" fill="none" stroke-linejoin="round"/>
<path d="M1107 795.6 L1115 778.3 L1123 768.8 L1131 766.8 L1139 765.8 L1147 764.5 L1155 760.7 L1163 756.6 L1171 765" stroke="#00ff00" stroke-width="2" fill="none" stroke-linejoin="round"/>
<path d="M1171 765 L1179 781 L1187 775.2 L1195 782.9 L1203 795 L1211 790.5" stroke="#ff0000" stroke-width="2" fill="none" stroke-linejoin="round"/>
<path d="M1211 790.5 L1219 771.9 L1227 771.9" stroke="#00ff00" stroke-width="2" fill="none" stroke-linejoin="round"/>
<path d="M1227 771.9 L1235 803.3 L1243 813.5 L1251 843.3 L1259 851 L1267 867 L1275 881 L1283 887.5 L1291 892.6 L1299 893.8 L1307 894.3 L1315 896.9 L1323 898.9 L1331 900.2 L1339 900.2 L1347 900.7 L1355 872 L1363 872" stroke="#ff0000" stroke-width="2" fill="none" stroke-linejoin="round"/>
<path d="M1363 872 L1371 860.7 L1379 863.2 L1387 837.7 L1395 813.5 L1403 811 L1411 780.3 L1419 757.4 L1427 742 L1435 736.2 L1443 735.7 L1451 730 L1459 710.2 L1467 709.7 L1475 708 L1483 703.8 L1491 701 L1499 699.4 L1507 698 L1515 697.4 L1523 694.9 L1531 694.9 L1539 694 L1547 693 L1555 692.3 L1563 691.5 L1579 690.3 L1603 689 L1619 688.5" stroke="#00ff00" stroke-width="2" fill="none" stroke-linejoin="round"/>
<path d="M1619 688.5 L1627 719 L1635 739.5 L1643 761.2 L1651 779.6 L1659 792.3 L1667 800.2 L1675 807.9 L1683 813.5 L1691 816.5 L1699 812.2 L1707 799.4 L1715 792.3 L1723 791.8 L1731 791 L1739 792.3 L1747 797.4 L1755 816 L1763 833 L1771 840.8 L1779 840.8 L1787 838.5 L1795 844.9 L1803 828.8 L1811 833 L1819 840.3 L1827 847.9 L1835 854.8 L1843 859.4 L1851 861 L1859 865.8 L1867 865.8" stroke="#ff0000" stroke-width="2" fill="none" stroke-linejoin="round"/>
</g>
<g shape-rendering="crispEdges" fill="none" stroke="#c3c3c3" stroke-width="1">
<rect x="2.5" y="2.5" width="1868" height="673"/>
<rect x="2.5" y="677.5" width="1868" height="235"/>
<path d="M1871 10.5H1873"/>
<path d="M1871 43.5H1873"/>
<path d="M1871 76.5H1873"/>
<path d="M1871 109.5H1873"/>
<path d="M1871 142.5H1873"/>
<path d="M1871 175.5H1873"/>
<path d="M1871 208.5H1873"/>
<path d="M1871 242.5H1873"/>
<path d="M1871 275.5H1873"/>
<path d="M1871 308.5H1873"/>
<path d="M1871 341.5H1873"/>
<path d="M1871 374.5H1873"/>
<path d="M1871 407.5H1873"/>
<path d="M1871 440.5H1873"/>
<path d="M1871 473.5H1873"/>
<path d="M1871 506.5H1873"/>
<path d="M1871 539.5H1873"/>
<path d="M1871 572.5H1873"/>
<path d="M1871 605.5H1873"/>
<path d="M1871 639.5H1873"/>
<path d="M1871 672.5H1873"/>
<path d="M1871 799.5H1873"/>
<path d="M1871 679.5H1872M1871 911.5H1872"/>
<path d="M3.5 913V917"/>
<path d="M67.5 913V917"/>
<path d="M131.5 913V917"/>
<path d="M195.5 913V917"/>
<path d="M259.5 913V917"/>
<path d="M323.5 913V917"/>
<path d="M387.5 913V917"/>
<path d="M451.5 913V917"/>
<path d="M515.5 913V917"/>
<path d="M579.5 913V917"/>
<path d="M643.5 913V917"/>
<path d="M707.5 913V917"/>
<path d="M771.5 913V917"/>
<path d="M835.5 913V917"/>
<path d="M899.5 913V917"/>
<path d="M963.5 913V917"/>
<path d="M1027.5 913V917"/>
<path d="M1091.5 913V917"/>
<path d="M1155.5 913V917"/>
<path d="M1219.5 913V917"/>
<path d="M1283.5 913V917"/>
<path d="M1347.5 913V917"/>
<path d="M1411.5 913V917"/>
<path d="M1475.5 913V917"/>
<path d="M1539.5 913V917"/>
<path d="M1603.5 913V917"/>
<path d="M1667.5 913V917"/>
<path d="M1731.5 913V917"/>
<path d="M1795.5 913V917"/>
<path d="M1859.5 913V917"/>
</g>
<text x="1876.5" y="14" font-size="10" fill="#d0d0d0" text-anchor="start" font-weight="normal" letter-spacing="-0.6">1855.55</text>
<text x="1876.5" y="47" font-size="10" fill="#d0d0d0" text-anchor="start" font-weight="normal" letter-spacing="-0.6">1854.15</text>
<text x="1876.5" y="80" font-size="10" fill="#d0d0d0" text-anchor="start" font-weight="normal" letter-spacing="-0.6">1852.80</text>
<text x="1876.5" y="113" font-size="10" fill="#d0d0d0" text-anchor="start" font-weight="normal" letter-spacing="-0.6">1851.45</text>
<text x="1876.5" y="146" font-size="10" fill="#d0d0d0" text-anchor="start" font-weight="normal" letter-spacing="-0.6">1850.10</text>
<text x="1876.5" y="179" font-size="10" fill="#d0d0d0" text-anchor="start" font-weight="normal" letter-spacing="-0.6">1848.70</text>
<text x="1876.5" y="212" font-size="10" fill="#d0d0d0" text-anchor="start" font-weight="normal" letter-spacing="-0.6">1847.30</text>
<text x="1876.5" y="246" font-size="10" fill="#d0d0d0" text-anchor="start" font-weight="normal" letter-spacing="-0.6">1845.95</text>
<text x="1876.5" y="279" font-size="10" fill="#d0d0d0" text-anchor="start" font-weight="normal" letter-spacing="-0.6">1844.60</text>
<text x="1876.5" y="312" font-size="10" fill="#d0d0d0" text-anchor="start" font-weight="normal" letter-spacing="-0.6">1843.25</text>
<text x="1876.5" y="345" font-size="10" fill="#d0d0d0" text-anchor="start" font-weight="normal" letter-spacing="-0.6">1841.85</text>
<text x="1876.5" y="378" font-size="10" fill="#d0d0d0" text-anchor="start" font-weight="normal" letter-spacing="-0.6">1840.50</text>
<text x="1876.5" y="411" font-size="10" fill="#d0d0d0" text-anchor="start" font-weight="normal" letter-spacing="-0.6">1839.15</text>
<text x="1876.5" y="444" font-size="10" fill="#d0d0d0" text-anchor="start" font-weight="normal" letter-spacing="-0.6">1837.80</text>
<text x="1876.5" y="477" font-size="10" fill="#d0d0d0" text-anchor="start" font-weight="normal" letter-spacing="-0.6">1836.40</text>
<text x="1876.5" y="510" font-size="10" fill="#d0d0d0" text-anchor="start" font-weight="normal" letter-spacing="-0.6">1835.05</text>
<text x="1876.5" y="543" font-size="10" fill="#d0d0d0" text-anchor="start" font-weight="normal" letter-spacing="-0.6">1833.70</text>
<text x="1876.5" y="576" font-size="10" fill="#d0d0d0" text-anchor="start" font-weight="normal" letter-spacing="-0.6">1832.35</text>
<text x="1876.5" y="609" font-size="10" fill="#d0d0d0" text-anchor="start" font-weight="normal" letter-spacing="-0.6">1830.95</text>
<text x="1876.5" y="643" font-size="10" fill="#d0d0d0" text-anchor="start" font-weight="normal" letter-spacing="-0.6">1829.55</text>
<text x="1876.5" y="676" font-size="10" fill="#d0d0d0" text-anchor="start" font-weight="normal" letter-spacing="-0.6">1828.20</text>
<text x="1874.5" y="688.2" font-size="10" fill="#d0d0d0" text-anchor="start" font-weight="normal" letter-spacing="-0.6">170.5599</text>
<text x="1876.5" y="803" font-size="10" fill="#d0d0d0" text-anchor="start" font-weight="normal" letter-spacing="-0.6">0.00</text>
<text x="1872" y="909" font-size="10" fill="#d0d0d0" text-anchor="start" font-weight="normal" letter-spacing="-0.6">-158.7795</text>
<rect x="1872" y="177" width="42" height="11" fill="#c0c0c0" shape-rendering="crispEdges"/>
<text x="1876.5" y="186" font-size="10" fill="#101820" text-anchor="start" font-weight="normal" letter-spacing="-0.6">1848.44</text>
<text x="2" y="925" font-size="10" fill="#d0d0d0" text-anchor="start" font-weight="normal" letter-spacing="-0.4">21 Jan 2022</text>
<text x="66" y="925" font-size="10" fill="#d0d0d0" text-anchor="start" font-weight="normal" letter-spacing="-0.4">21 Jan 19:15</text>
<text x="130" y="925" font-size="10" fill="#d0d0d0" text-anchor="start" font-weight="normal" letter-spacing="-0.4">21 Jan 21:15</text>
<text x="194" y="925" font-size="10" fill="#d0d0d0" text-anchor="start" font-weight="normal" letter-spacing="-0.4">21 Jan 23:15</text>
<text x="258" y="925" font-size="10" fill="#d0d0d0" text-anchor="start" font-weight="normal" letter-spacing="-0.4">24 Jan 02:15</text>
<text x="322" y="925" font-size="10" fill="#d0d0d0" text-anchor="start" font-weight="normal" letter-spacing="-0.4">24 Jan 04:15</text>
<text x="386" y="925" font-size="10" fill="#d0d0d0" text-anchor="start" font-weight="normal" letter-spacing="-0.4">24 Jan 06:15</text>
<text x="450" y="925" font-size="10" fill="#d0d0d0" text-anchor="start" font-weight="normal" letter-spacing="-0.4">24 Jan 08:15</text>
<text x="514" y="925" font-size="10" fill="#d0d0d0" text-anchor="start" font-weight="normal" letter-spacing="-0.4">24 Jan 10:15</text>
<text x="578" y="925" font-size="10" fill="#d0d0d0" text-anchor="start" font-weight="normal" letter-spacing="-0.4">24 Jan 12:15</text>
<text x="642" y="925" font-size="10" fill="#d0d0d0" text-anchor="start" font-weight="normal" letter-spacing="-0.4">24 Jan 14:15</text>
<text x="706" y="925" font-size="10" fill="#d0d0d0" text-anchor="start" font-weight="normal" letter-spacing="-0.4">24 Jan 16:15</text>
<text x="770" y="925" font-size="10" fill="#d0d0d0" text-anchor="start" font-weight="normal" letter-spacing="-0.4">24 Jan 18:15</text>
<text x="834" y="925" font-size="10" fill="#d0d0d0" text-anchor="start" font-weight="normal" letter-spacing="-0.4">24 Jan 20:15</text>
<text x="898" y="925" font-size="10" fill="#d0d0d0" text-anchor="start" font-weight="normal" letter-spacing="-0.4">24 Jan 22:15</text>
<text x="962" y="925" font-size="10" fill="#d0d0d0" text-anchor="start" font-weight="normal" letter-spacing="-0.4">25 Jan 01:15</text>
<text x="1026" y="925" font-size="10" fill="#d0d0d0" text-anchor="start" font-weight="normal" letter-spacing="-0.4">25 Jan 03:15</text>
<text x="1090" y="925" font-size="10" fill="#d0d0d0" text-anchor="start" font-weight="normal" letter-spacing="-0.4">25 Jan 05:15</text>
<text x="1154" y="925" font-size="10" fill="#d0d0d0" text-anchor="start" font-weight="normal" letter-spacing="-0.4">25 Jan 07:15</text>
<text x="1218" y="925" font-size="10" fill="#d0d0d0" text-anchor="start" font-weight="normal" letter-spacing="-0.4">25 Jan 09:15</text>
<text x="1282" y="925" font-size="10" fill="#d0d0d0" text-anchor="start" font-weight="normal" letter-spacing="-0.4">25 Jan 11:15</text>
<text x="1346" y="925" font-size="10" fill="#d0d0d0" text-anchor="start" font-weight="normal" letter-spacing="-0.4">25 Jan 13:15</text>
<text x="1410" y="925" font-size="10" fill="#d0d0d0" text-anchor="start" font-weight="normal" letter-spacing="-0.4">25 Jan 15:15</text>
<text x="1474" y="925" font-size="10" fill="#d0d0d0" text-anchor="start" font-weight="normal" letter-spacing="-0.4">25 Jan 17:15</text>
<text x="1538" y="925" font-size="10" fill="#d0d0d0" text-anchor="start" font-weight="normal" letter-spacing="-0.4">25 Jan 19:15</text>
<text x="1602" y="925" font-size="10" fill="#d0d0d0" text-anchor="start" font-weight="normal" letter-spacing="-0.4">25 Jan 21:15</text>
<text x="1666" y="925" font-size="10" fill="#d0d0d0" text-anchor="start" font-weight="normal" letter-spacing="-0.4">25 Jan 23:15</text>
<text x="1730" y="925" font-size="10" fill="#d0d0d0" text-anchor="start" font-weight="normal" letter-spacing="-0.4">26 Jan 02:15</text>
<text x="1794" y="925" font-size="10" fill="#d0d0d0" text-anchor="start" font-weight="normal" letter-spacing="-0.4">26 Jan 04:15</text>
<text x="1858" y="925" font-size="10" fill="#d0d0d0" text-anchor="start" font-weight="normal" letter-spacing="-0.4">26 Jan 06:15</text>
<path d="M6 9.5H14L10 13.5Z" fill="#c8c8c8"/>
<text x="17.6" y="14" font-size="10" fill="#b8b8b8" text-anchor="start" font-weight="normal" letter-spacing="-0.3">XAUUSD,M15</text>
<text x="6.5" y="690" font-size="10" fill="#a8a8a8" text-anchor="start" font-weight="normal" letter-spacing="-0.1">sc MTF CCI - www.truetl.com - -31.4961</text>
<text x="227.5" y="15" font-size="12.5" fill="#d8d8d8" text-anchor="start" font-weight="normal">Monday</text>
<text x="963.5" y="15" font-size="12.5" fill="#d8d8d8" text-anchor="start" font-weight="normal">Tuesday</text>
<text x="1699.5" y="15" font-size="12.5" fill="#d8d8d8" text-anchor="start" font-weight="normal">Wednesday</text>
<rect x="23.5" y="18.5" width="39" height="19" rx="1.5" fill="#0000ff" stroke="#e0e0e0" stroke-width="1"/>
<text x="41.8" y="32" font-size="10.5" fill="#ffffff" text-anchor="middle" font-weight="normal">Hide</text>
<rect x="8.5" y="48.5" width="64" height="19" rx="1" fill="#dcdcdc" stroke="#c4c4c4" stroke-width="1"/>
<text x="40.3" y="61.6" font-size="10" fill="#000000" text-anchor="middle" font-weight="bold" letter-spacing="0.35">XBRUSD</text>
<rect x="8.5" y="69.5" width="64" height="19" rx="1" fill="#0000ff" stroke="#b0b0b8" stroke-width="1"/>
<text x="40.3" y="82.6" font-size="10" fill="#ff8c28" text-anchor="middle" font-weight="bold" letter-spacing="0.35">XAUUSD</text>
<rect x="8.5" y="90.5" width="64" height="19" rx="1" fill="#dcdcdc" stroke="#c4c4c4" stroke-width="1"/>
<text x="40.3" y="103.6" font-size="10" fill="#000000" text-anchor="middle" font-weight="bold" letter-spacing="0.35">AUDCAD</text>
<rect x="8.5" y="111.5" width="64" height="19" rx="1" fill="#dcdcdc" stroke="#c4c4c4" stroke-width="1"/>
<text x="40.3" y="124.6" font-size="10" fill="#000000" text-anchor="middle" font-weight="bold" letter-spacing="0.35">AUDJPY</text>
<rect x="8.5" y="132.5" width="64" height="19" rx="1" fill="#dcdcdc" stroke="#c4c4c4" stroke-width="1"/>
<text x="40.3" y="145.6" font-size="10" fill="#000000" text-anchor="middle" font-weight="bold" letter-spacing="0.35">CADCHF</text>
<rect x="8.5" y="153.5" width="64" height="19" rx="1" fill="#dcdcdc" stroke="#c4c4c4" stroke-width="1"/>
<text x="40.3" y="166.6" font-size="10" fill="#000000" text-anchor="middle" font-weight="bold" letter-spacing="0.35">CADJPY</text>
<rect x="8.5" y="174.5" width="64" height="19" rx="1" fill="#dcdcdc" stroke="#c4c4c4" stroke-width="1"/>
<text x="40.3" y="187.6" font-size="10" fill="#000000" text-anchor="middle" font-weight="bold" letter-spacing="0.35">CHFJPY</text>
<rect x="8.5" y="195.5" width="64" height="19" rx="1" fill="#dcdcdc" stroke="#c4c4c4" stroke-width="1"/>
<text x="40.3" y="208.6" font-size="10" fill="#000000" text-anchor="middle" font-weight="bold" letter-spacing="0.35">EURAUD</text>
<rect x="8.5" y="216.5" width="64" height="19" rx="1" fill="#dcdcdc" stroke="#c4c4c4" stroke-width="1"/>
<text x="40.3" y="229.6" font-size="10" fill="#000000" text-anchor="middle" font-weight="bold" letter-spacing="0.35">EURCAD</text>
<rect x="8.5" y="237.5" width="64" height="19" rx="1" fill="#dcdcdc" stroke="#c4c4c4" stroke-width="1"/>
<text x="40.3" y="250.6" font-size="10" fill="#000000" text-anchor="middle" font-weight="bold" letter-spacing="0.35">EURJPY</text>
<rect x="8.5" y="258.5" width="64" height="19" rx="1" fill="#dcdcdc" stroke="#c4c4c4" stroke-width="1"/>
<text x="40.3" y="271.6" font-size="10" fill="#000000" text-anchor="middle" font-weight="bold" letter-spacing="0.35">EURUSD</text>
<rect x="8.5" y="279.5" width="64" height="19" rx="1" fill="#dcdcdc" stroke="#c4c4c4" stroke-width="1"/>
<text x="40.3" y="292.6" font-size="10" fill="#000000" text-anchor="middle" font-weight="bold" letter-spacing="0.35">GBPAUD</text>
<rect x="8.5" y="300.5" width="64" height="19" rx="1" fill="#dcdcdc" stroke="#c4c4c4" stroke-width="1"/>
<text x="40.3" y="313.6" font-size="10" fill="#000000" text-anchor="middle" font-weight="bold" letter-spacing="0.35">GBPCAD</text>
<rect x="8.5" y="321.5" width="64" height="19" rx="1" fill="#dcdcdc" stroke="#c4c4c4" stroke-width="1"/>
<text x="40.3" y="334.6" font-size="10" fill="#000000" text-anchor="middle" font-weight="bold" letter-spacing="0.35">GBPJPY</text>
<rect x="8.5" y="342.5" width="64" height="19" rx="1" fill="#dcdcdc" stroke="#c4c4c4" stroke-width="1"/>
<text x="40.3" y="355.6" font-size="10" fill="#000000" text-anchor="middle" font-weight="bold" letter-spacing="0.35">GBPUSD</text>
<rect x="8.5" y="363.5" width="64" height="19" rx="1" fill="#dcdcdc" stroke="#c4c4c4" stroke-width="1"/>
<text x="40.3" y="376.6" font-size="10" fill="#000000" text-anchor="middle" font-weight="bold" letter-spacing="0.35">NZDCAD</text>
<rect x="8.5" y="384.5" width="64" height="19" rx="1" fill="#dcdcdc" stroke="#c4c4c4" stroke-width="1"/>
<text x="40.3" y="397.6" font-size="10" fill="#000000" text-anchor="middle" font-weight="bold" letter-spacing="0.35">NZDJPY</text>
<rect x="8.5" y="405.5" width="64" height="19" rx="1" fill="#dcdcdc" stroke="#c4c4c4" stroke-width="1"/>
<text x="40.3" y="418.6" font-size="10" fill="#000000" text-anchor="middle" font-weight="bold" letter-spacing="0.35">USDCAD</text>
<rect x="8.5" y="426.5" width="64" height="19" rx="1" fill="#dcdcdc" stroke="#c4c4c4" stroke-width="1"/>
<text x="40.3" y="439.6" font-size="10" fill="#000000" text-anchor="middle" font-weight="bold" letter-spacing="0.35">USDJPY</text>
<rect x="1795.5" y="683.5" width="69" height="19" rx="2.5" fill="#696969" stroke="#c4c4c4" stroke-width="1.3"/>
<text x="1828.8" y="698" font-size="13" fill="#00ff00" text-anchor="middle" font-weight="normal">S&amp;R</text>
<rect x="1795.5" y="708.5" width="69" height="19" rx="2.5" fill="#696969" stroke="#c4c4c4" stroke-width="1.3"/>
<text x="1828.8" y="723" font-size="13" fill="#00ff00" text-anchor="middle" font-weight="normal">X ON</text>
<rect x="1795.5" y="733.5" width="69" height="19" rx="2.5" fill="#696969" stroke="#c4c4c4" stroke-width="1.3"/>
<text x="1828.8" y="748" font-size="13" fill="#00ff00" text-anchor="middle" font-weight="normal">Lucky ON</text>
<text x="1860.5" y="35.5" font-size="21" fill="#ffd700" text-anchor="end" font-weight="bold">Pips 55.0</text>
<text x="1780" y="55.5" font-size="9" fill="#ffffff" text-anchor="start" font-weight="normal">ASK</text>
<text x="1859" y="54.3" font-size="10.7" fill="#6e6e6e" text-anchor="end" font-weight="normal">1848.86</text>
<text x="1781.8" y="69.6" font-size="9" fill="#ffffff" text-anchor="start" font-weight="normal">BID</text>
<text x="1859" y="67.8" font-size="10.7" fill="#000000" text-anchor="end" font-weight="normal">1848.44</text>
<text x="1824" y="84" font-size="9.5" fill="#ffffff" text-anchor="end" font-weight="normal">spread :</text>
<text x="1859" y="84" font-size="9" fill="#7cfc00" text-anchor="end" font-weight="normal">42.0</text>
<text x="1824" y="122" font-size="9.5" fill="#ffffff" text-anchor="end" font-weight="normal">TDR :</text>
<text x="1859" y="120.2" font-size="10.5" fill="#ffffff" text-anchor="end" font-weight="normal">350</text>
<text x="1824" y="132.9" font-size="9.5" fill="#ffffff" text-anchor="end" font-weight="normal">YDR :</text>
<text x="1859" y="132.9" font-size="9" fill="#ffffff" text-anchor="end" font-weight="normal">1906</text>
<text x="1824" y="145.4" font-size="9.5" fill="#ffffff" text-anchor="end" font-weight="normal">WADR :</text>
<text x="1859" y="145.4" font-size="9" fill="#ffffff" text-anchor="end" font-weight="normal">1753</text>
<text x="1824" y="155" font-size="9.5" fill="#ffffff" text-anchor="end" font-weight="normal">MADR :</text>
<text x="1859" y="155" font-size="9" fill="#ffffff" text-anchor="end" font-weight="normal">1795</text>
<text x="1824" y="166.3" font-size="9.5" fill="#ffffff" text-anchor="end" font-weight="normal">HYADR :</text>
<text x="1859" y="166.3" font-size="9" fill="#ffffff" text-anchor="end" font-weight="normal">2131</text>
<text x="1824" y="180" font-size="9.5" fill="#ffffff" text-anchor="end" font-weight="normal">PTO :</text>
<text x="1859" y="180" font-size="9" fill="#ffffff" text-anchor="end" font-weight="normal">50</text>
<text x="1824" y="214.8" font-size="9.5" fill="#ffffff" text-anchor="end" font-weight="normal">WR :</text>
<text x="1859" y="214.2" font-size="10.6" fill="#ffffff" text-anchor="end" font-weight="normal">2435</text>
<text x="1824" y="227.7" font-size="9.5" fill="#ffffff" text-anchor="end" font-weight="normal">MWR :</text>
<text x="1859" y="227.7" font-size="9" fill="#ffffff" text-anchor="end" font-weight="normal">4289</text>
<text x="1824" y="237.7" font-size="9.5" fill="#ffffff" text-anchor="end" font-weight="normal">3MWR :</text>
<text x="1859" y="237.7" font-size="9" fill="#ffffff" text-anchor="end" font-weight="normal">4516</text>
<text x="1824" y="248.6" font-size="9.5" fill="#ffffff" text-anchor="end" font-weight="normal">6MWR :</text>
<text x="1859" y="248.6" font-size="9" fill="#ffffff" text-anchor="end" font-weight="normal">4753</text>
<text x="1824" y="261.7" font-size="9.5" fill="#ffffff" text-anchor="end" font-weight="normal">3xADR :</text>
<text x="1859" y="261.7" font-size="9" fill="#e6e600" text-anchor="end" font-weight="normal">5169</text>
<path d="M1758 74.5H1860" stroke="#e2e0de" stroke-width="1" shape-rendering="crispEdges"/>
<path d="M1758 89.5H1860" stroke="#e2e0de" stroke-width="1" shape-rendering="crispEdges"/>
<path d="M1758 170.5H1860" stroke="#e2e0de" stroke-width="1" shape-rendering="crispEdges"/>
<path d="M1758 182.5H1860" stroke="#e2e0de" stroke-width="1" shape-rendering="crispEdges"/>
<path d="M1758 252.5H1860" stroke="#e2e0de" stroke-width="1" shape-rendering="crispEdges"/>
<path d="M1758 266.5H1860" stroke="#e2e0de" stroke-width="1" shape-rendering="crispEdges"/>
<text x="1824.5" y="98.6" font-size="9.3" fill="#ffffff" text-anchor="end" font-weight="normal">850.6000 :</text>
<text x="1780.3" y="98.6" font-size="9" fill="#ffffff" text-anchor="end" font-weight="normal">HOD</text>
<text x="1859" y="98.6" font-size="9" fill="#ffffff" text-anchor="end" font-weight="normal">216</text>
<text x="1824.5" y="108.4" font-size="9.3" fill="#ffffff" text-anchor="end" font-weight="normal">847.1000 :</text>
<text x="1780.3" y="108.4" font-size="9" fill="#ffffff" text-anchor="end" font-weight="normal">LOD</text>
<text x="1859" y="108.4" font-size="9" fill="#ffffff" text-anchor="end" font-weight="normal">134</text>
<text x="1824.5" y="191.6" font-size="9.3" fill="#ffffff" text-anchor="end" font-weight="normal">854.4200 :</text>
<text x="1780.3" y="191.6" font-size="9" fill="#ffffff" text-anchor="end" font-weight="normal">WH</text>
<text x="1859" y="191.6" font-size="9" fill="#ffffff" text-anchor="end" font-weight="normal">598</text>
<text x="1824.5" y="202" font-size="9.3" fill="#ffffff" text-anchor="end" font-weight="normal">830.0700 :</text>
<text x="1780.3" y="202" font-size="9" fill="#ffffff" text-anchor="end" font-weight="normal">WL</text>
<text x="1859" y="202" font-size="9" fill="#ffffff" text-anchor="end" font-weight="normal">1837</text>
<text x="1824" y="278.8" font-size="9.3" fill="#ffffff" text-anchor="end" font-weight="normal">Candle Time</text>
<text x="1859" y="278.8" font-size="9.3" fill="#e6e600" text-anchor="end" font-weight="normal">11:27</text>
<rect x="1844" y="196" width="12" height="11" fill="#ffffff" shape-rendering="crispEdges"/>
<text x="1812.5" y="649" font-size="19" fill="#b4b4b4" text-anchor="middle" font-weight="bold">XU-13</text>
<text x="1812" y="667" font-size="16" fill="#b4b4b4" text-anchor="middle" font-weight="bold">Xard Universe</text>
</svg></body></html>
